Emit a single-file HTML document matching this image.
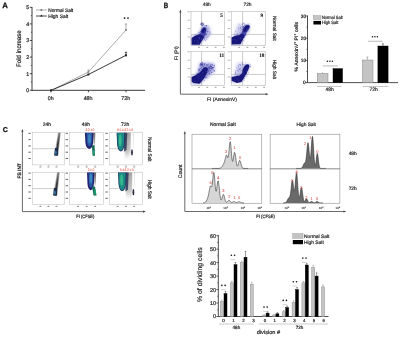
<!DOCTYPE html>
<html><head><meta charset="utf-8"><style>
html,body{margin:0;padding:0;background:#fff;}
svg{display:block;font-family:"Liberation Sans", sans-serif;}
text{opacity:0.999;text-rendering:geometricPrecision;}
</style></head><body>
<svg width="400" height="337" viewBox="0 0 400 337">
<rect width="400" height="337" fill="#fff"/>
<defs><filter id="gblur" x="0" y="0" width="100%" height="100%" filterUnits="userSpaceOnUse"><feGaussianBlur stdDeviation="0.3"/></filter></defs>
<g filter="url(#gblur)">
<text x="5.1" y="8.2" font-size="7.8" text-anchor="middle" font-weight="bold" fill="#111" stroke="#111" stroke-width="0.25" >A</text>
<line x1="32" y1="7.0" x2="32" y2="90.7" stroke="#222" stroke-width="0.9" />
<line x1="29.8" y1="90.3" x2="32" y2="90.3" stroke="#222" stroke-width="0.8" />
<text x="29.1" y="92.2" font-size="5.3" text-anchor="end" font-weight="normal" fill="#1a1a1a" stroke="#1a1a1a" stroke-width="0.18" >0</text>
<line x1="29.8" y1="73.69999999999999" x2="32" y2="73.69999999999999" stroke="#222" stroke-width="0.8" />
<text x="29.1" y="75.6" font-size="5.3" text-anchor="end" font-weight="normal" fill="#1a1a1a" stroke="#1a1a1a" stroke-width="0.18" >1</text>
<line x1="29.8" y1="57.099999999999994" x2="32" y2="57.099999999999994" stroke="#222" stroke-width="0.8" />
<text x="29.1" y="58.99999999999999" font-size="5.3" text-anchor="end" font-weight="normal" fill="#1a1a1a" stroke="#1a1a1a" stroke-width="0.18" >2</text>
<line x1="29.8" y1="40.49999999999999" x2="32" y2="40.49999999999999" stroke="#222" stroke-width="0.8" />
<text x="29.1" y="42.39999999999999" font-size="5.3" text-anchor="end" font-weight="normal" fill="#1a1a1a" stroke="#1a1a1a" stroke-width="0.18" >3</text>
<line x1="29.8" y1="23.89999999999999" x2="32" y2="23.89999999999999" stroke="#222" stroke-width="0.8" />
<text x="29.1" y="25.79999999999999" font-size="5.3" text-anchor="end" font-weight="normal" fill="#1a1a1a" stroke="#1a1a1a" stroke-width="0.18" >4</text>
<line x1="29.8" y1="7.299999999999997" x2="32" y2="7.299999999999997" stroke="#222" stroke-width="0.8" />
<text x="29.1" y="9.199999999999998" font-size="5.3" text-anchor="end" font-weight="normal" fill="#1a1a1a" stroke="#1a1a1a" stroke-width="0.18" >5</text>
<line x1="30.8" y1="82.0" x2="32" y2="82.0" stroke="#222" stroke-width="0.6" />
<line x1="30.8" y1="65.39999999999999" x2="32" y2="65.39999999999999" stroke="#222" stroke-width="0.6" />
<line x1="30.8" y1="48.8" x2="32" y2="48.8" stroke="#222" stroke-width="0.6" />
<line x1="30.8" y1="32.19999999999999" x2="32" y2="32.19999999999999" stroke="#222" stroke-width="0.6" />
<line x1="30.8" y1="15.599999999999994" x2="32" y2="15.599999999999994" stroke="#222" stroke-width="0.6" />
<line x1="32" y1="90.3" x2="145" y2="90.3" stroke="#222" stroke-width="0.9" />
<line x1="51" y1="90.3" x2="51" y2="92.3" stroke="#222" stroke-width="0.8" />
<text x="50.7" y="100.4" font-size="5.3" text-anchor="middle" font-weight="normal" fill="#1a1a1a" stroke="#1a1a1a" stroke-width="0.18" >0h</text>
<line x1="88.4" y1="90.3" x2="88.4" y2="92.3" stroke="#222" stroke-width="0.8" />
<text x="88.10000000000001" y="100.4" font-size="5.3" text-anchor="middle" font-weight="normal" fill="#1a1a1a" stroke="#1a1a1a" stroke-width="0.18" >48h</text>
<line x1="126" y1="90.3" x2="126" y2="92.3" stroke="#222" stroke-width="0.8" />
<text x="125.7" y="100.4" font-size="5.3" text-anchor="middle" font-weight="normal" fill="#1a1a1a" stroke="#1a1a1a" stroke-width="0.18" >72h</text>
<text x="21.3" y="48.6" font-size="6.5" text-anchor="middle" font-weight="normal" fill="#1a1a1a" stroke="#1a1a1a" stroke-width="0.18" transform="rotate(-90 21.3 48.6)" textLength="36.6" lengthAdjust="spacingAndGlyphs">Fold increase</text>
<polyline points="51,90.4 88.4,72 126,30" fill="none" stroke="#8a8a8a" stroke-width="0.7"/>
<line x1="126" y1="30" x2="126" y2="24" stroke="#8a8a8a" stroke-width="0.7" />
<line x1="124.8" y1="24" x2="127.2" y2="24" stroke="#8a8a8a" stroke-width="0.7" />
<line x1="88.4" y1="72" x2="88.4" y2="70" stroke="#8a8a8a" stroke-width="0.7" />
<line x1="87.4" y1="70" x2="89.4" y2="70" stroke="#8a8a8a" stroke-width="0.7" />
<polyline points="51,90.4 88.4,74.5 126,55.3" fill="none" stroke="#222" stroke-width="0.9"/>
<line x1="126" y1="55.3" x2="126" y2="52.3" stroke="#222" stroke-width="0.8" />
<line x1="124.8" y1="52.3" x2="127.2" y2="52.3" stroke="#222" stroke-width="0.8" />
<rect x="50" y="89.4" width="2" height="2" fill="#222"/>
<rect x="87.4" y="73.5" width="2" height="2" fill="#222"/>
<rect x="125" y="54.3" width="2" height="2" fill="#222"/>
<rect x="87.5" y="71.1" width="1.8" height="1.8" fill="#888"/>
<rect x="125.1" y="29.1" width="1.8" height="1.8" fill="#888"/>
<circle cx="124.6" cy="18.1" r="0.85" fill="#111"/><circle cx="128.0" cy="18.1" r="0.85" fill="#111"/>
<line x1="36" y1="10" x2="46.8" y2="10" stroke="#999" stroke-width="0.8" />
<rect x="40.6" y="9.2" width="1.6" height="1.6" fill="#666"/>
<text x="48.2" y="11.7" font-size="5.0" text-anchor="start" font-weight="normal" fill="#1a1a1a" stroke="#1a1a1a" stroke-width="0.18" textLength="25" lengthAdjust="spacingAndGlyphs">Normal Salt</text>
<line x1="36" y1="16.0" x2="46.8" y2="16.0" stroke="#333" stroke-width="0.9" />
<path d="M41.4,14.5 L42.7,16.4 L40.1,16.4 Z" fill="#222"/>
<text x="48.2" y="17.6" font-size="5.0" text-anchor="start" font-weight="normal" fill="#1a1a1a" stroke="#1a1a1a" stroke-width="0.18" textLength="20" lengthAdjust="spacingAndGlyphs">High Salt</text>
<text x="166.0" y="8.2" font-size="7.6" text-anchor="middle" font-weight="bold" fill="#111" stroke="#111" stroke-width="0.3" textLength="4.4" lengthAdjust="spacingAndGlyphs">B</text>
<text x="206.75" y="6.1" font-size="4.8" text-anchor="middle" font-weight="normal" fill="#222" stroke="#222" stroke-width="0.18" >48h</text>
<text x="247.5" y="6.1" font-size="4.8" text-anchor="middle" font-weight="normal" fill="#222" stroke="#222" stroke-width="0.18" >72h</text>
<line x1="180.4" y1="11.5" x2="180.4" y2="94.2" stroke="#444" stroke-width="0.8" />
<path d="M180.4,9.6 L179.3,12.4 L181.5,12.4 Z" fill="#444"/>
<line x1="180.4" y1="94.2" x2="266.5" y2="94.2" stroke="#444" stroke-width="0.8" />
<path d="M268.5,94.2 L265.7,93.1 L265.7,95.3 Z" fill="#444"/>
<text x="178.4" y="53.2" font-size="5.0" text-anchor="middle" font-weight="normal" fill="#222" stroke="#222" stroke-width="0.18" transform="rotate(-90 178.4 53.2)" >FI (PI)</text>
<text x="222.0" y="100.7" font-size="4.9" text-anchor="middle" font-weight="normal" fill="#222" stroke="#222" stroke-width="0.18" >FI (AnnexinV)</text>
<text x="272.9" y="28.4" font-size="4.9" text-anchor="middle" font-weight="normal" fill="#222" stroke="#222" stroke-width="0.18" transform="rotate(90 272.9 28.4)" textLength="25" lengthAdjust="spacingAndGlyphs">Normal Salt</text>
<text x="272.9" y="69.4" font-size="4.9" text-anchor="middle" font-weight="normal" fill="#222" stroke="#222" stroke-width="0.18" transform="rotate(90 272.9 69.4)" textLength="19.5" lengthAdjust="spacingAndGlyphs">High Salt</text>
<rect x="191" y="11.7" width="33.5" height="33.7" fill="none" stroke="#aaa" stroke-width="0.5" />
<line x1="201.6" y1="11.7" x2="201.6" y2="45.400000000000006" stroke="#999" stroke-width="0.5" />
<line x1="191" y1="34.4" x2="224.5" y2="34.4" stroke="#999" stroke-width="0.5" />
<line x1="190.1" y1="11.799999999999999" x2="191" y2="11.799999999999999" stroke="#aaa" stroke-width="0.5" />
<rect x="187.6" y="11.35" width="2.1" height="0.9" fill="#aaa" stroke="none" stroke-width="0.6" />
<line x1="190.1" y1="20.2" x2="191" y2="20.2" stroke="#aaa" stroke-width="0.5" />
<rect x="187.6" y="19.75" width="2.1" height="0.9" fill="#aaa" stroke="none" stroke-width="0.6" />
<line x1="190.1" y1="28.6" x2="191" y2="28.6" stroke="#aaa" stroke-width="0.5" />
<rect x="187.6" y="28.150000000000002" width="2.1" height="0.9" fill="#aaa" stroke="none" stroke-width="0.6" />
<line x1="190.1" y1="37.0" x2="191" y2="37.0" stroke="#aaa" stroke-width="0.5" />
<rect x="187.6" y="36.55" width="2.1" height="0.9" fill="#aaa" stroke="none" stroke-width="0.6" />
<line x1="199.0" y1="45.400000000000006" x2="199.0" y2="46.400000000000006" stroke="#aaa" stroke-width="0.5" />
<rect x="198.1" y="47.2" width="1.8" height="0.8" fill="#999" stroke="none" stroke-width="0.6" />
<line x1="207.29999999999998" y1="45.400000000000006" x2="207.29999999999998" y2="46.400000000000006" stroke="#aaa" stroke-width="0.5" />
<rect x="206.39999999999998" y="47.2" width="1.8" height="0.8" fill="#999" stroke="none" stroke-width="0.6" />
<line x1="215.6" y1="45.400000000000006" x2="215.6" y2="46.400000000000006" stroke="#aaa" stroke-width="0.5" />
<rect x="214.7" y="47.2" width="1.8" height="0.8" fill="#999" stroke="none" stroke-width="0.6" />
<line x1="223.89999999999998" y1="45.400000000000006" x2="223.89999999999998" y2="46.400000000000006" stroke="#aaa" stroke-width="0.5" />
<rect x="222.99999999999997" y="47.2" width="1.8" height="0.8" fill="#999" stroke="none" stroke-width="0.6" />
<text x="221.7" y="16.799999999999997" font-size="5.3" text-anchor="middle" font-weight="bold" fill="#111" stroke="#111" stroke-width="0.1" font-family="Liberation Serif">5</text>
<rect x="231.2" y="11.7" width="34.4" height="33.7" fill="none" stroke="#aaa" stroke-width="0.5" />
<line x1="242.6" y1="11.7" x2="242.6" y2="45.400000000000006" stroke="#999" stroke-width="0.5" />
<line x1="231.2" y1="34.4" x2="265.59999999999997" y2="34.4" stroke="#999" stroke-width="0.5" />
<line x1="230.29999999999998" y1="11.799999999999999" x2="231.2" y2="11.799999999999999" stroke="#aaa" stroke-width="0.5" />
<rect x="227.79999999999998" y="11.35" width="2.1" height="0.9" fill="#aaa" stroke="none" stroke-width="0.6" />
<line x1="230.29999999999998" y1="20.2" x2="231.2" y2="20.2" stroke="#aaa" stroke-width="0.5" />
<rect x="227.79999999999998" y="19.75" width="2.1" height="0.9" fill="#aaa" stroke="none" stroke-width="0.6" />
<line x1="230.29999999999998" y1="28.6" x2="231.2" y2="28.6" stroke="#aaa" stroke-width="0.5" />
<rect x="227.79999999999998" y="28.150000000000002" width="2.1" height="0.9" fill="#aaa" stroke="none" stroke-width="0.6" />
<line x1="230.29999999999998" y1="37.0" x2="231.2" y2="37.0" stroke="#aaa" stroke-width="0.5" />
<rect x="227.79999999999998" y="36.55" width="2.1" height="0.9" fill="#aaa" stroke="none" stroke-width="0.6" />
<line x1="239.2" y1="45.400000000000006" x2="239.2" y2="46.400000000000006" stroke="#aaa" stroke-width="0.5" />
<rect x="238.29999999999998" y="47.2" width="1.8" height="0.8" fill="#999" stroke="none" stroke-width="0.6" />
<line x1="247.49999999999997" y1="45.400000000000006" x2="247.49999999999997" y2="46.400000000000006" stroke="#aaa" stroke-width="0.5" />
<rect x="246.59999999999997" y="47.2" width="1.8" height="0.8" fill="#999" stroke="none" stroke-width="0.6" />
<line x1="255.79999999999995" y1="45.400000000000006" x2="255.79999999999995" y2="46.400000000000006" stroke="#aaa" stroke-width="0.5" />
<rect x="254.89999999999995" y="47.2" width="1.8" height="0.8" fill="#999" stroke="none" stroke-width="0.6" />
<line x1="264.09999999999997" y1="45.400000000000006" x2="264.09999999999997" y2="46.400000000000006" stroke="#aaa" stroke-width="0.5" />
<rect x="263.2" y="47.2" width="1.8" height="0.8" fill="#999" stroke="none" stroke-width="0.6" />
<text x="261.79999999999995" y="16.799999999999997" font-size="5.3" text-anchor="middle" font-weight="bold" fill="#111" stroke="#111" stroke-width="0.1" font-family="Liberation Serif">9</text>
<rect x="191" y="51.7" width="33.5" height="33.7" fill="none" stroke="#aaa" stroke-width="0.5" />
<line x1="201.6" y1="51.7" x2="201.6" y2="85.4" stroke="#999" stroke-width="0.5" />
<line x1="191" y1="74.4" x2="224.5" y2="74.4" stroke="#999" stroke-width="0.5" />
<line x1="190.1" y1="51.800000000000004" x2="191" y2="51.800000000000004" stroke="#aaa" stroke-width="0.5" />
<rect x="187.6" y="51.35" width="2.1" height="0.9" fill="#aaa" stroke="none" stroke-width="0.6" />
<line x1="190.1" y1="60.2" x2="191" y2="60.2" stroke="#aaa" stroke-width="0.5" />
<rect x="187.6" y="59.75" width="2.1" height="0.9" fill="#aaa" stroke="none" stroke-width="0.6" />
<line x1="190.1" y1="68.60000000000001" x2="191" y2="68.60000000000001" stroke="#aaa" stroke-width="0.5" />
<rect x="187.6" y="68.15" width="2.1" height="0.9" fill="#aaa" stroke="none" stroke-width="0.6" />
<line x1="190.1" y1="77.0" x2="191" y2="77.0" stroke="#aaa" stroke-width="0.5" />
<rect x="187.6" y="76.55" width="2.1" height="0.9" fill="#aaa" stroke="none" stroke-width="0.6" />
<line x1="199.0" y1="85.4" x2="199.0" y2="86.4" stroke="#aaa" stroke-width="0.5" />
<rect x="198.1" y="87.2" width="1.8" height="0.8" fill="#999" stroke="none" stroke-width="0.6" />
<line x1="207.29999999999998" y1="85.4" x2="207.29999999999998" y2="86.4" stroke="#aaa" stroke-width="0.5" />
<rect x="206.39999999999998" y="87.2" width="1.8" height="0.8" fill="#999" stroke="none" stroke-width="0.6" />
<line x1="215.6" y1="85.4" x2="215.6" y2="86.4" stroke="#aaa" stroke-width="0.5" />
<rect x="214.7" y="87.2" width="1.8" height="0.8" fill="#999" stroke="none" stroke-width="0.6" />
<line x1="223.89999999999998" y1="85.4" x2="223.89999999999998" y2="86.4" stroke="#aaa" stroke-width="0.5" />
<rect x="222.99999999999997" y="87.2" width="1.8" height="0.8" fill="#999" stroke="none" stroke-width="0.6" />
<text x="221.7" y="56.800000000000004" font-size="5.3" text-anchor="middle" font-weight="bold" fill="#111" stroke="#111" stroke-width="0.1" font-family="Liberation Serif">11</text>
<rect x="231.2" y="51.7" width="34.4" height="33.7" fill="none" stroke="#aaa" stroke-width="0.5" />
<line x1="242.6" y1="51.7" x2="242.6" y2="85.4" stroke="#999" stroke-width="0.5" />
<line x1="231.2" y1="74.4" x2="265.59999999999997" y2="74.4" stroke="#999" stroke-width="0.5" />
<line x1="230.29999999999998" y1="51.800000000000004" x2="231.2" y2="51.800000000000004" stroke="#aaa" stroke-width="0.5" />
<rect x="227.79999999999998" y="51.35" width="2.1" height="0.9" fill="#aaa" stroke="none" stroke-width="0.6" />
<line x1="230.29999999999998" y1="60.2" x2="231.2" y2="60.2" stroke="#aaa" stroke-width="0.5" />
<rect x="227.79999999999998" y="59.75" width="2.1" height="0.9" fill="#aaa" stroke="none" stroke-width="0.6" />
<line x1="230.29999999999998" y1="68.60000000000001" x2="231.2" y2="68.60000000000001" stroke="#aaa" stroke-width="0.5" />
<rect x="227.79999999999998" y="68.15" width="2.1" height="0.9" fill="#aaa" stroke="none" stroke-width="0.6" />
<line x1="230.29999999999998" y1="77.0" x2="231.2" y2="77.0" stroke="#aaa" stroke-width="0.5" />
<rect x="227.79999999999998" y="76.55" width="2.1" height="0.9" fill="#aaa" stroke="none" stroke-width="0.6" />
<line x1="239.2" y1="85.4" x2="239.2" y2="86.4" stroke="#aaa" stroke-width="0.5" />
<rect x="238.29999999999998" y="87.2" width="1.8" height="0.8" fill="#999" stroke="none" stroke-width="0.6" />
<line x1="247.49999999999997" y1="85.4" x2="247.49999999999997" y2="86.4" stroke="#aaa" stroke-width="0.5" />
<rect x="246.59999999999997" y="87.2" width="1.8" height="0.8" fill="#999" stroke="none" stroke-width="0.6" />
<line x1="255.79999999999995" y1="85.4" x2="255.79999999999995" y2="86.4" stroke="#aaa" stroke-width="0.5" />
<rect x="254.89999999999995" y="87.2" width="1.8" height="0.8" fill="#999" stroke="none" stroke-width="0.6" />
<line x1="264.09999999999997" y1="85.4" x2="264.09999999999997" y2="86.4" stroke="#aaa" stroke-width="0.5" />
<rect x="263.2" y="87.2" width="1.8" height="0.8" fill="#999" stroke="none" stroke-width="0.6" />
<text x="261.79999999999995" y="56.800000000000004" font-size="5.3" text-anchor="middle" font-weight="bold" fill="#111" stroke="#111" stroke-width="0.1" font-family="Liberation Serif">18</text>
<defs><filter id="bl1" x="-50%" y="-50%" width="200%" height="200%"><feGaussianBlur stdDeviation="0.5"/></filter><filter id="bl2" x="-50%" y="-50%" width="200%" height="200%"><feGaussianBlur stdDeviation="1.5"/></filter><filter id="bl6" x="-50%" y="-50%" width="200%" height="200%"><feGaussianBlur stdDeviation="0.9"/></filter><filter id="bl3" x="-50%" y="-50%" width="200%" height="200%"><feGaussianBlur stdDeviation="0.35"/></filter><filter id="bl7" x="-50%" y="-50%" width="200%" height="200%"><feGaussianBlur stdDeviation="0.25"/></filter></defs>
<path d="M198,34 L203,25 L210,27 L211,34 L206,40 L201,40 Z" fill="#9a9ade" opacity="0.6" filter="url(#bl2)"/>
<g filter="url(#bl7)">
<g fill="#3535a6"><circle cx="202.8" cy="34.5" r="0.58" fill-opacity="0.53"/><circle cx="203.6" cy="35.0" r="0.36" fill-opacity="0.56"/><circle cx="205.4" cy="38.5" r="0.33" fill-opacity="0.45"/><circle cx="206.4" cy="25.7" r="0.59" fill-opacity="0.78"/><circle cx="205.8" cy="35.5" r="0.35" fill-opacity="0.31"/><circle cx="203.9" cy="26.0" r="0.36" fill-opacity="0.42"/><circle cx="202.6" cy="39.3" r="0.46" fill-opacity="0.62"/><circle cx="203.5" cy="36.3" r="0.44" fill-opacity="0.44"/><circle cx="208.6" cy="37.0" r="0.39" fill-opacity="0.41"/><circle cx="207.5" cy="31.8" r="0.55" fill-opacity="0.49"/><circle cx="209.7" cy="33.0" r="0.59" fill-opacity="0.50"/><circle cx="197.1" cy="35.7" r="0.53" fill-opacity="0.43"/><circle cx="208.0" cy="28.0" r="0.47" fill-opacity="0.52"/><circle cx="198.9" cy="37.4" r="0.34" fill-opacity="0.62"/><circle cx="200.6" cy="40.0" r="0.36" fill-opacity="0.50"/><circle cx="208.8" cy="35.9" r="0.33" fill-opacity="0.79"/><circle cx="207.6" cy="30.6" r="0.39" fill-opacity="0.34"/><circle cx="197.4" cy="34.9" r="0.37" fill-opacity="0.60"/><circle cx="201.6" cy="32.7" r="0.59" fill-opacity="0.54"/><circle cx="204.6" cy="39.7" r="0.35" fill-opacity="0.38"/><circle cx="209.2" cy="35.3" r="0.43" fill-opacity="0.35"/><circle cx="199.6" cy="37.0" r="0.38" fill-opacity="0.71"/><circle cx="204.9" cy="30.0" r="0.35" fill-opacity="0.66"/><circle cx="204.4" cy="39.5" r="0.48" fill-opacity="0.44"/><circle cx="209.8" cy="28.5" r="0.30" fill-opacity="0.43"/><circle cx="202.7" cy="26.0" r="0.35" fill-opacity="0.48"/><circle cx="204.6" cy="27.2" r="0.41" fill-opacity="0.75"/><circle cx="206.4" cy="34.9" r="0.34" fill-opacity="0.32"/><circle cx="196.3" cy="35.8" r="0.44" fill-opacity="0.67"/><circle cx="207.1" cy="37.0" r="0.54" fill-opacity="0.76"/><circle cx="201.3" cy="36.6" r="0.57" fill-opacity="0.74"/><circle cx="202.3" cy="38.4" r="0.56" fill-opacity="0.59"/><circle cx="205.4" cy="31.5" r="0.47" fill-opacity="0.60"/><circle cx="197.2" cy="35.9" r="0.60" fill-opacity="0.74"/><circle cx="206.9" cy="31.6" r="0.52" fill-opacity="0.59"/><circle cx="202.6" cy="39.3" r="0.33" fill-opacity="0.68"/><circle cx="203.2" cy="28.9" r="0.51" fill-opacity="0.55"/><circle cx="205.2" cy="40.6" r="0.38" fill-opacity="0.31"/><circle cx="200.5" cy="36.5" r="0.36" fill-opacity="0.38"/><circle cx="202.6" cy="40.2" r="0.40" fill-opacity="0.63"/><circle cx="199.0" cy="32.3" r="0.54" fill-opacity="0.76"/><circle cx="209.2" cy="31.5" r="0.47" fill-opacity="0.46"/><circle cx="202.8" cy="29.7" r="0.36" fill-opacity="0.51"/><circle cx="205.4" cy="33.4" r="0.39" fill-opacity="0.72"/><circle cx="206.6" cy="34.7" r="0.39" fill-opacity="0.70"/><circle cx="202.8" cy="25.4" r="0.55" fill-opacity="0.42"/><circle cx="205.4" cy="32.6" r="0.49" fill-opacity="0.63"/><circle cx="206.3" cy="28.4" r="0.44" fill-opacity="0.39"/><circle cx="206.7" cy="28.0" r="0.38" fill-opacity="0.47"/><circle cx="206.5" cy="33.8" r="0.48" fill-opacity="0.68"/><circle cx="201.9" cy="38.5" r="0.57" fill-opacity="0.34"/><circle cx="205.4" cy="40.5" r="0.41" fill-opacity="0.58"/><circle cx="210.2" cy="32.9" r="0.50" fill-opacity="0.40"/><circle cx="206.8" cy="38.9" r="0.49" fill-opacity="0.66"/><circle cx="204.1" cy="38.4" r="0.40" fill-opacity="0.75"/><circle cx="208.8" cy="30.9" r="0.32" fill-opacity="0.52"/><circle cx="204.3" cy="38.1" r="0.45" fill-opacity="0.31"/><circle cx="208.1" cy="26.1" r="0.54" fill-opacity="0.39"/><circle cx="201.0" cy="38.4" r="0.34" fill-opacity="0.37"/><circle cx="203.7" cy="37.3" r="0.55" fill-opacity="0.64"/><circle cx="199.3" cy="34.0" r="0.39" fill-opacity="0.66"/><circle cx="205.6" cy="33.9" r="0.55" fill-opacity="0.58"/><circle cx="200.7" cy="31.5" r="0.55" fill-opacity="0.75"/><circle cx="204.6" cy="28.4" r="0.46" fill-opacity="0.55"/><circle cx="205.1" cy="25.5" r="0.59" fill-opacity="0.56"/><circle cx="202.0" cy="38.6" r="0.47" fill-opacity="0.55"/><circle cx="206.4" cy="26.1" r="0.46" fill-opacity="0.51"/><circle cx="200.0" cy="33.0" r="0.34" fill-opacity="0.52"/><circle cx="203.1" cy="30.4" r="0.36" fill-opacity="0.61"/><circle cx="207.7" cy="25.4" r="0.36" fill-opacity="0.41"/></g>
<g fill="#5a5ac0"><circle cx="197.0" cy="40.5" r="0.50" fill-opacity="0.24"/><circle cx="191.6" cy="36.9" r="0.38" fill-opacity="0.44"/><circle cx="199.4" cy="39.8" r="0.47" fill-opacity="0.40"/><circle cx="193.2" cy="37.7" r="0.35" fill-opacity="0.47"/><circle cx="192.2" cy="42.6" r="0.32" fill-opacity="0.41"/><circle cx="195.4" cy="37.3" r="0.55" fill-opacity="0.21"/><circle cx="192.2" cy="43.9" r="0.45" fill-opacity="0.23"/><circle cx="192.8" cy="37.5" r="0.34" fill-opacity="0.29"/><circle cx="198.6" cy="34.1" r="0.51" fill-opacity="0.22"/><circle cx="193.5" cy="42.6" r="0.42" fill-opacity="0.33"/><circle cx="198.4" cy="38.2" r="0.42" fill-opacity="0.21"/><circle cx="199.9" cy="44.6" r="0.59" fill-opacity="0.40"/><circle cx="195.6" cy="36.7" r="0.51" fill-opacity="0.40"/><circle cx="192.8" cy="35.1" r="0.41" fill-opacity="0.35"/><circle cx="200.8" cy="38.5" r="0.31" fill-opacity="0.45"/><circle cx="196.4" cy="38.7" r="0.37" fill-opacity="0.33"/><circle cx="196.0" cy="42.0" r="0.33" fill-opacity="0.36"/><circle cx="193.5" cy="41.0" r="0.31" fill-opacity="0.28"/><circle cx="195.5" cy="40.3" r="0.32" fill-opacity="0.34"/><circle cx="193.9" cy="35.7" r="0.44" fill-opacity="0.49"/><circle cx="197.0" cy="44.4" r="0.35" fill-opacity="0.48"/><circle cx="195.7" cy="34.5" r="0.52" fill-opacity="0.47"/><circle cx="191.6" cy="35.5" r="0.53" fill-opacity="0.30"/><circle cx="192.0" cy="40.0" r="0.60" fill-opacity="0.50"/><circle cx="195.2" cy="42.2" r="0.55" fill-opacity="0.39"/></g>
</g>
<path d="M191.4,37 L196,34.5 L200,32.5 L202,28 L205,26 L208,29 L206.5,36 L203,41 L200.5,45 L191.4,45 Z" fill="#3c3ca8" opacity="0.3" filter="url(#bl6)"/>
<path d="M199.5,35 L201.5,30 L205.5,29.5 L205.5,35 L203,38.5 Z" fill="#3030a0" opacity="0.8" filter="url(#bl1)"/>
<path d="M191.6,38 L195,35.8 L199.6,34.2 L202.2,35.2 L204,37.2 L202,40.5 L199.6,44.8 L191.6,44.8 Z" fill="#17177a" filter="url(#bl1)"/>
<ellipse cx="203.8" cy="30.2" rx="2.2" ry="3.0" transform="rotate(25 203.8 30.2)" fill="#17177a" filter="url(#bl1)"/>
<ellipse cx="202.1" cy="24.1" rx="1.3" ry="1.1" fill="none" stroke="#17177a" stroke-width="0.8" filter="url(#bl3)"/>
<path d="M234,34 L238,24 L244,24 L244,33 L238,37 Z" fill="#9a9ade" opacity="0.5" filter="url(#bl2)"/>
<g filter="url(#bl7)">
<g fill="#3535a6"><circle cx="236.8" cy="35.8" r="0.49" fill-opacity="0.54"/><circle cx="237.7" cy="37.9" r="0.54" fill-opacity="0.56"/><circle cx="242.6" cy="26.7" r="0.30" fill-opacity="0.49"/><circle cx="244.0" cy="23.4" r="0.54" fill-opacity="0.42"/><circle cx="242.5" cy="24.3" r="0.59" fill-opacity="0.48"/><circle cx="236.6" cy="38.4" r="0.34" fill-opacity="0.76"/><circle cx="241.7" cy="33.0" r="0.40" fill-opacity="0.54"/><circle cx="248.7" cy="26.7" r="0.53" fill-opacity="0.40"/><circle cx="243.9" cy="36.6" r="0.34" fill-opacity="0.54"/><circle cx="248.1" cy="26.0" r="0.58" fill-opacity="0.74"/><circle cx="241.0" cy="29.3" r="0.44" fill-opacity="0.49"/><circle cx="242.4" cy="31.8" r="0.47" fill-opacity="0.67"/><circle cx="237.8" cy="34.2" r="0.47" fill-opacity="0.61"/><circle cx="239.9" cy="40.5" r="0.40" fill-opacity="0.60"/><circle cx="239.2" cy="24.1" r="0.32" fill-opacity="0.71"/><circle cx="247.2" cy="29.5" r="0.51" fill-opacity="0.64"/><circle cx="249.0" cy="31.8" r="0.41" fill-opacity="0.42"/><circle cx="248.9" cy="25.2" r="0.32" fill-opacity="0.70"/><circle cx="247.2" cy="31.7" r="0.55" fill-opacity="0.33"/><circle cx="238.4" cy="27.8" r="0.43" fill-opacity="0.39"/><circle cx="246.7" cy="31.6" r="0.38" fill-opacity="0.78"/><circle cx="242.9" cy="36.6" r="0.31" fill-opacity="0.41"/><circle cx="241.2" cy="33.6" r="0.55" fill-opacity="0.45"/><circle cx="243.1" cy="27.5" r="0.53" fill-opacity="0.31"/><circle cx="243.9" cy="27.1" r="0.42" fill-opacity="0.78"/><circle cx="249.4" cy="24.7" r="0.33" fill-opacity="0.35"/><circle cx="245.1" cy="24.5" r="0.46" fill-opacity="0.46"/><circle cx="242.4" cy="26.4" r="0.35" fill-opacity="0.39"/><circle cx="240.4" cy="36.2" r="0.47" fill-opacity="0.32"/><circle cx="235.1" cy="37.3" r="0.35" fill-opacity="0.66"/><circle cx="238.3" cy="35.9" r="0.39" fill-opacity="0.32"/><circle cx="240.6" cy="28.2" r="0.57" fill-opacity="0.45"/><circle cx="242.6" cy="33.0" r="0.58" fill-opacity="0.35"/><circle cx="244.2" cy="32.2" r="0.52" fill-opacity="0.78"/><circle cx="239.3" cy="36.0" r="0.46" fill-opacity="0.58"/><circle cx="246.9" cy="31.0" r="0.49" fill-opacity="0.31"/><circle cx="245.0" cy="30.9" r="0.46" fill-opacity="0.49"/><circle cx="240.8" cy="26.5" r="0.31" fill-opacity="0.52"/><circle cx="238.2" cy="36.1" r="0.55" fill-opacity="0.66"/><circle cx="241.8" cy="26.7" r="0.42" fill-opacity="0.54"/><circle cx="235.5" cy="31.6" r="0.45" fill-opacity="0.66"/><circle cx="244.7" cy="37.2" r="0.50" fill-opacity="0.73"/><circle cx="245.9" cy="35.7" r="0.37" fill-opacity="0.76"/><circle cx="240.6" cy="34.3" r="0.55" fill-opacity="0.78"/><circle cx="239.3" cy="28.2" r="0.42" fill-opacity="0.37"/><circle cx="243.4" cy="23.6" r="0.39" fill-opacity="0.77"/><circle cx="246.6" cy="31.2" r="0.33" fill-opacity="0.78"/><circle cx="246.0" cy="26.1" r="0.40" fill-opacity="0.62"/><circle cx="245.6" cy="27.2" r="0.59" fill-opacity="0.46"/><circle cx="238.3" cy="38.9" r="0.35" fill-opacity="0.64"/><circle cx="237.4" cy="34.0" r="0.38" fill-opacity="0.49"/><circle cx="241.4" cy="34.3" r="0.38" fill-opacity="0.39"/><circle cx="240.5" cy="27.4" r="0.36" fill-opacity="0.78"/><circle cx="234.7" cy="34.2" r="0.51" fill-opacity="0.42"/><circle cx="241.7" cy="39.9" r="0.41" fill-opacity="0.37"/><circle cx="243.0" cy="23.0" r="0.36" fill-opacity="0.50"/><circle cx="243.4" cy="26.5" r="0.54" fill-opacity="0.72"/><circle cx="244.5" cy="31.4" r="0.54" fill-opacity="0.47"/><circle cx="238.6" cy="29.1" r="0.39" fill-opacity="0.61"/><circle cx="249.1" cy="23.4" r="0.32" fill-opacity="0.56"/><circle cx="245.5" cy="25.8" r="0.38" fill-opacity="0.33"/><circle cx="245.6" cy="35.1" r="0.35" fill-opacity="0.35"/><circle cx="240.9" cy="35.8" r="0.52" fill-opacity="0.56"/><circle cx="240.0" cy="32.7" r="0.49" fill-opacity="0.39"/><circle cx="246.1" cy="31.9" r="0.35" fill-opacity="0.73"/><circle cx="245.6" cy="26.3" r="0.53" fill-opacity="0.75"/><circle cx="243.1" cy="40.2" r="0.59" fill-opacity="0.50"/><circle cx="240.0" cy="34.3" r="0.48" fill-opacity="0.68"/><circle cx="245.0" cy="25.2" r="0.58" fill-opacity="0.57"/><circle cx="249.0" cy="26.1" r="0.60" fill-opacity="0.58"/></g>
</g>
<path d="M231.4,37 L236,35 L240,34 L242,28 L246,24 L250,25 L249.5,31 L246,35 L244,40 L241,45 L231.4,45 Z" fill="#3c3ca8" opacity="0.3" filter="url(#bl6)"/>
<path d="M240.5,35 L243,30 L247,30 L246,35 L243,38.5 Z" fill="#3030a0" opacity="0.8" filter="url(#bl1)"/>
<path d="M231.6,37.6 L235.1,35.8 L239.6,34.9 L242.5,33.6 L244.6,35.0 L243.6,38 L240.5,44.2 L231.6,44.5 Z" fill="#17177a" filter="url(#bl1)"/>
<ellipse cx="246.2" cy="28.5" rx="2.5" ry="4.3" transform="rotate(42 246.2 28.5)" fill="#17177a" filter="url(#bl1)"/>
<path d="M197,72 L200,62 L214,63 L215,71 L207,79 L200,78 Z" fill="#9a9ade" opacity="0.7" filter="url(#bl2)"/>
<g filter="url(#bl7)">
<g fill="#3535a6"><circle cx="203.5" cy="75.0" r="0.34" fill-opacity="0.36"/><circle cx="200.4" cy="76.4" r="0.34" fill-opacity="0.67"/><circle cx="208.6" cy="64.6" r="0.46" fill-opacity="0.52"/><circle cx="213.9" cy="69.7" r="0.36" fill-opacity="0.47"/><circle cx="202.9" cy="80.1" r="0.36" fill-opacity="0.41"/><circle cx="207.1" cy="72.4" r="0.59" fill-opacity="0.72"/><circle cx="202.8" cy="65.9" r="0.55" fill-opacity="0.79"/><circle cx="200.1" cy="77.1" r="0.52" fill-opacity="0.40"/><circle cx="208.2" cy="66.2" r="0.31" fill-opacity="0.47"/><circle cx="202.4" cy="69.5" r="0.49" fill-opacity="0.72"/><circle cx="201.8" cy="65.3" r="0.49" fill-opacity="0.57"/><circle cx="208.8" cy="63.8" r="0.36" fill-opacity="0.76"/><circle cx="207.4" cy="75.2" r="0.33" fill-opacity="0.50"/><circle cx="204.6" cy="77.2" r="0.43" fill-opacity="0.69"/><circle cx="206.7" cy="64.2" r="0.33" fill-opacity="0.79"/><circle cx="202.4" cy="75.6" r="0.56" fill-opacity="0.54"/><circle cx="205.5" cy="77.0" r="0.38" fill-opacity="0.49"/><circle cx="207.6" cy="74.1" r="0.31" fill-opacity="0.36"/><circle cx="198.6" cy="75.8" r="0.51" fill-opacity="0.79"/><circle cx="210.6" cy="66.8" r="0.53" fill-opacity="0.79"/><circle cx="203.1" cy="67.4" r="0.35" fill-opacity="0.32"/><circle cx="198.4" cy="78.4" r="0.31" fill-opacity="0.61"/><circle cx="199.9" cy="65.7" r="0.55" fill-opacity="0.45"/><circle cx="199.5" cy="70.6" r="0.51" fill-opacity="0.56"/><circle cx="212.3" cy="69.6" r="0.46" fill-opacity="0.66"/><circle cx="204.8" cy="75.6" r="0.44" fill-opacity="0.37"/><circle cx="198.3" cy="76.9" r="0.52" fill-opacity="0.77"/><circle cx="209.1" cy="73.0" r="0.35" fill-opacity="0.73"/><circle cx="198.3" cy="70.1" r="0.34" fill-opacity="0.49"/><circle cx="201.8" cy="70.1" r="0.51" fill-opacity="0.57"/><circle cx="200.6" cy="76.8" r="0.52" fill-opacity="0.71"/><circle cx="196.6" cy="73.7" r="0.57" fill-opacity="0.43"/><circle cx="199.8" cy="77.5" r="0.41" fill-opacity="0.50"/><circle cx="211.5" cy="69.3" r="0.36" fill-opacity="0.41"/><circle cx="202.6" cy="75.3" r="0.41" fill-opacity="0.69"/><circle cx="207.9" cy="71.1" r="0.45" fill-opacity="0.77"/><circle cx="201.3" cy="65.4" r="0.31" fill-opacity="0.54"/><circle cx="201.6" cy="71.0" r="0.30" fill-opacity="0.30"/><circle cx="203.2" cy="76.4" r="0.39" fill-opacity="0.76"/><circle cx="207.0" cy="69.7" r="0.53" fill-opacity="0.42"/><circle cx="206.3" cy="68.1" r="0.33" fill-opacity="0.59"/><circle cx="199.6" cy="69.1" r="0.46" fill-opacity="0.77"/><circle cx="208.8" cy="71.9" r="0.56" fill-opacity="0.45"/><circle cx="203.4" cy="74.9" r="0.47" fill-opacity="0.41"/><circle cx="203.8" cy="77.6" r="0.37" fill-opacity="0.65"/><circle cx="209.0" cy="68.2" r="0.59" fill-opacity="0.70"/><circle cx="203.8" cy="72.2" r="0.43" fill-opacity="0.37"/><circle cx="204.4" cy="71.1" r="0.44" fill-opacity="0.64"/><circle cx="209.8" cy="68.4" r="0.35" fill-opacity="0.34"/><circle cx="202.1" cy="69.4" r="0.43" fill-opacity="0.77"/><circle cx="204.6" cy="69.6" r="0.54" fill-opacity="0.67"/><circle cx="213.3" cy="70.1" r="0.47" fill-opacity="0.69"/><circle cx="204.6" cy="64.6" r="0.48" fill-opacity="0.74"/><circle cx="203.2" cy="66.3" r="0.40" fill-opacity="0.78"/><circle cx="204.0" cy="68.0" r="0.38" fill-opacity="0.52"/><circle cx="208.7" cy="68.5" r="0.36" fill-opacity="0.41"/><circle cx="200.9" cy="79.2" r="0.35" fill-opacity="0.68"/><circle cx="198.1" cy="76.9" r="0.38" fill-opacity="0.69"/><circle cx="204.2" cy="63.5" r="0.33" fill-opacity="0.70"/><circle cx="206.3" cy="71.2" r="0.41" fill-opacity="0.65"/><circle cx="205.2" cy="63.2" r="0.48" fill-opacity="0.46"/><circle cx="212.1" cy="72.4" r="0.53" fill-opacity="0.36"/><circle cx="209.4" cy="73.6" r="0.56" fill-opacity="0.74"/><circle cx="206.5" cy="73.2" r="0.53" fill-opacity="0.43"/><circle cx="206.4" cy="77.0" r="0.48" fill-opacity="0.57"/><circle cx="207.7" cy="64.8" r="0.59" fill-opacity="0.54"/><circle cx="206.1" cy="77.5" r="0.56" fill-opacity="0.37"/><circle cx="204.6" cy="65.4" r="0.44" fill-opacity="0.37"/><circle cx="212.7" cy="68.8" r="0.42" fill-opacity="0.75"/><circle cx="211.6" cy="68.4" r="0.45" fill-opacity="0.63"/><circle cx="212.3" cy="65.1" r="0.51" fill-opacity="0.67"/><circle cx="207.2" cy="68.6" r="0.56" fill-opacity="0.69"/><circle cx="208.1" cy="67.5" r="0.35" fill-opacity="0.35"/><circle cx="202.6" cy="65.4" r="0.32" fill-opacity="0.51"/><circle cx="201.7" cy="77.6" r="0.32" fill-opacity="0.50"/><circle cx="205.8" cy="65.1" r="0.31" fill-opacity="0.34"/><circle cx="213.1" cy="68.2" r="0.37" fill-opacity="0.73"/><circle cx="202.8" cy="69.8" r="0.52" fill-opacity="0.74"/><circle cx="199.1" cy="67.0" r="0.30" fill-opacity="0.58"/><circle cx="198.8" cy="75.1" r="0.49" fill-opacity="0.35"/><circle cx="205.3" cy="68.5" r="0.35" fill-opacity="0.53"/><circle cx="202.9" cy="66.4" r="0.49" fill-opacity="0.63"/><circle cx="204.9" cy="75.6" r="0.41" fill-opacity="0.52"/><circle cx="202.4" cy="77.3" r="0.59" fill-opacity="0.54"/><circle cx="197.5" cy="73.3" r="0.48" fill-opacity="0.64"/><circle cx="210.8" cy="70.8" r="0.46" fill-opacity="0.68"/><circle cx="213.9" cy="67.4" r="0.59" fill-opacity="0.44"/><circle cx="204.6" cy="65.0" r="0.48" fill-opacity="0.50"/><circle cx="198.4" cy="74.5" r="0.48" fill-opacity="0.44"/><circle cx="209.2" cy="73.9" r="0.33" fill-opacity="0.75"/><circle cx="203.6" cy="70.8" r="0.47" fill-opacity="0.52"/><circle cx="214.1" cy="70.9" r="0.50" fill-opacity="0.69"/><circle cx="213.7" cy="65.2" r="0.40" fill-opacity="0.77"/><circle cx="207.5" cy="69.1" r="0.56" fill-opacity="0.36"/><circle cx="208.7" cy="71.2" r="0.39" fill-opacity="0.52"/><circle cx="200.8" cy="75.5" r="0.53" fill-opacity="0.49"/><circle cx="206.7" cy="64.9" r="0.34" fill-opacity="0.58"/><circle cx="198.5" cy="69.2" r="0.55" fill-opacity="0.44"/><circle cx="198.3" cy="76.6" r="0.55" fill-opacity="0.80"/><circle cx="204.2" cy="80.8" r="0.46" fill-opacity="0.74"/><circle cx="200.3" cy="70.9" r="0.51" fill-opacity="0.41"/><circle cx="205.9" cy="77.7" r="0.54" fill-opacity="0.65"/><circle cx="207.5" cy="66.7" r="0.37" fill-opacity="0.33"/><circle cx="209.1" cy="69.5" r="0.48" fill-opacity="0.34"/><circle cx="200.8" cy="68.5" r="0.54" fill-opacity="0.63"/><circle cx="207.5" cy="69.5" r="0.41" fill-opacity="0.49"/><circle cx="200.7" cy="71.5" r="0.52" fill-opacity="0.40"/><circle cx="202.8" cy="73.1" r="0.36" fill-opacity="0.75"/><circle cx="208.7" cy="69.6" r="0.39" fill-opacity="0.73"/><circle cx="209.5" cy="66.0" r="0.40" fill-opacity="0.35"/><circle cx="207.9" cy="70.1" r="0.40" fill-opacity="0.65"/><circle cx="200.8" cy="64.7" r="0.54" fill-opacity="0.74"/><circle cx="211.3" cy="72.6" r="0.52" fill-opacity="0.73"/><circle cx="202.8" cy="75.9" r="0.40" fill-opacity="0.68"/><circle cx="200.9" cy="80.0" r="0.43" fill-opacity="0.60"/><circle cx="206.7" cy="66.0" r="0.43" fill-opacity="0.58"/><circle cx="201.8" cy="79.5" r="0.41" fill-opacity="0.78"/><circle cx="209.7" cy="69.5" r="0.51" fill-opacity="0.30"/><circle cx="197.6" cy="73.1" r="0.39" fill-opacity="0.50"/><circle cx="209.4" cy="71.0" r="0.48" fill-opacity="0.67"/></g>
<g fill="#2a2a96"><circle cx="200.2" cy="65.5" r="0.38" fill-opacity="0.86"/><circle cx="206.9" cy="69.0" r="0.33" fill-opacity="0.70"/><circle cx="212.5" cy="67.7" r="0.54" fill-opacity="0.85"/><circle cx="204.9" cy="64.0" r="0.49" fill-opacity="0.55"/><circle cx="199.2" cy="69.1" r="0.51" fill-opacity="0.83"/><circle cx="214.3" cy="65.4" r="0.32" fill-opacity="0.55"/><circle cx="214.6" cy="64.8" r="0.34" fill-opacity="0.51"/><circle cx="199.8" cy="64.3" r="0.39" fill-opacity="0.57"/><circle cx="204.0" cy="70.5" r="0.34" fill-opacity="0.83"/><circle cx="210.8" cy="68.0" r="0.44" fill-opacity="0.81"/><circle cx="208.4" cy="65.6" r="0.38" fill-opacity="0.60"/><circle cx="205.4" cy="70.9" r="0.41" fill-opacity="0.53"/><circle cx="206.6" cy="69.7" r="0.41" fill-opacity="0.78"/><circle cx="200.5" cy="64.4" r="0.47" fill-opacity="0.52"/><circle cx="203.8" cy="66.7" r="0.35" fill-opacity="0.51"/><circle cx="199.1" cy="70.7" r="0.47" fill-opacity="0.88"/><circle cx="206.9" cy="70.7" r="0.52" fill-opacity="0.75"/><circle cx="207.4" cy="67.6" r="0.36" fill-opacity="0.65"/><circle cx="210.6" cy="65.4" r="0.51" fill-opacity="0.70"/><circle cx="208.7" cy="69.8" r="0.46" fill-opacity="0.56"/><circle cx="203.0" cy="64.0" r="0.31" fill-opacity="0.88"/><circle cx="208.5" cy="70.8" r="0.50" fill-opacity="0.63"/><circle cx="214.5" cy="70.5" r="0.41" fill-opacity="0.53"/><circle cx="204.1" cy="65.2" r="0.39" fill-opacity="0.53"/><circle cx="210.4" cy="70.9" r="0.35" fill-opacity="0.81"/><circle cx="208.4" cy="67.4" r="0.53" fill-opacity="0.65"/><circle cx="212.1" cy="64.2" r="0.54" fill-opacity="0.57"/><circle cx="199.1" cy="70.2" r="0.48" fill-opacity="0.77"/><circle cx="211.3" cy="66.6" r="0.33" fill-opacity="0.63"/><circle cx="214.3" cy="70.9" r="0.36" fill-opacity="0.68"/><circle cx="206.2" cy="70.3" r="0.30" fill-opacity="0.83"/><circle cx="203.1" cy="67.8" r="0.33" fill-opacity="0.53"/><circle cx="213.1" cy="67.5" r="0.54" fill-opacity="0.85"/><circle cx="211.0" cy="64.5" r="0.45" fill-opacity="0.90"/><circle cx="207.0" cy="64.5" r="0.35" fill-opacity="0.90"/><circle cx="214.6" cy="65.7" r="0.38" fill-opacity="0.79"/><circle cx="207.1" cy="65.3" r="0.55" fill-opacity="0.75"/><circle cx="204.8" cy="64.2" r="0.43" fill-opacity="0.80"/><circle cx="201.8" cy="64.6" r="0.48" fill-opacity="0.87"/><circle cx="205.0" cy="67.3" r="0.46" fill-opacity="0.71"/><circle cx="201.1" cy="65.9" r="0.35" fill-opacity="0.58"/><circle cx="200.4" cy="66.7" r="0.35" fill-opacity="0.84"/><circle cx="204.2" cy="70.7" r="0.50" fill-opacity="0.61"/><circle cx="201.5" cy="68.0" r="0.42" fill-opacity="0.71"/><circle cx="201.0" cy="67.7" r="0.49" fill-opacity="0.68"/><circle cx="203.1" cy="70.5" r="0.37" fill-opacity="0.90"/><circle cx="210.0" cy="64.0" r="0.41" fill-opacity="0.56"/><circle cx="211.6" cy="66.9" r="0.32" fill-opacity="0.88"/><circle cx="211.8" cy="68.3" r="0.44" fill-opacity="0.53"/><circle cx="214.7" cy="66.1" r="0.43" fill-opacity="0.70"/></g>
</g>
<path d="M191.4,76.5 L196,74 L200,70 L203,66.5 L210,66 L211.6,70 L208,74 L205,79 L201,84.5 L191.4,84.5 Z" fill="#3c3ca8" opacity="0.32" filter="url(#bl6)"/>
<path d="M191.6,77.1 L196,74.9 L200.9,71.4 L203.6,67.8 L206,67 L208,68.7 L207.1,72.7 L204,78.5 L199.6,83.8 L193.3,82.9 L191.6,81.5 Z" fill="#17177a" filter="url(#bl1)"/>
<ellipse cx="201.8" cy="63.8" rx="1.2" ry="1.0" fill="none" stroke="#17177a" stroke-width="0.7" filter="url(#bl3)"/>
<ellipse cx="210.7" cy="67.4" rx="1.4" ry="1.0" fill="none" stroke="#17177a" stroke-width="0.6" opacity="0.8" filter="url(#bl3)"/>
<path d="M235,74 L237,63 L243,63 L243,72 L238,77 Z" fill="#9a9ade" opacity="0.5" filter="url(#bl2)"/>
<g filter="url(#bl7)">
<g fill="#3535a6"><circle cx="240.5" cy="65.8" r="0.35" fill-opacity="0.76"/><circle cx="243.8" cy="75.5" r="0.47" fill-opacity="0.49"/><circle cx="246.4" cy="73.1" r="0.53" fill-opacity="0.63"/><circle cx="248.3" cy="70.2" r="0.35" fill-opacity="0.37"/><circle cx="246.3" cy="64.5" r="0.50" fill-opacity="0.61"/><circle cx="248.3" cy="65.5" r="0.52" fill-opacity="0.67"/><circle cx="236.1" cy="75.1" r="0.34" fill-opacity="0.76"/><circle cx="244.5" cy="73.8" r="0.35" fill-opacity="0.74"/><circle cx="248.4" cy="67.3" r="0.34" fill-opacity="0.63"/><circle cx="240.9" cy="74.9" r="0.45" fill-opacity="0.50"/><circle cx="241.8" cy="76.3" r="0.43" fill-opacity="0.67"/><circle cx="243.2" cy="79.5" r="0.50" fill-opacity="0.46"/><circle cx="235.9" cy="74.9" r="0.34" fill-opacity="0.74"/><circle cx="245.1" cy="76.7" r="0.48" fill-opacity="0.51"/><circle cx="238.1" cy="70.2" r="0.52" fill-opacity="0.64"/><circle cx="241.0" cy="70.5" r="0.59" fill-opacity="0.44"/><circle cx="237.6" cy="75.4" r="0.38" fill-opacity="0.75"/><circle cx="239.5" cy="80.4" r="0.41" fill-opacity="0.74"/><circle cx="246.8" cy="76.4" r="0.36" fill-opacity="0.38"/><circle cx="245.3" cy="62.4" r="0.37" fill-opacity="0.58"/><circle cx="236.6" cy="67.9" r="0.37" fill-opacity="0.64"/><circle cx="244.2" cy="76.0" r="0.47" fill-opacity="0.55"/><circle cx="244.0" cy="80.8" r="0.49" fill-opacity="0.56"/><circle cx="245.0" cy="64.7" r="0.52" fill-opacity="0.69"/><circle cx="235.2" cy="71.7" r="0.48" fill-opacity="0.48"/><circle cx="249.4" cy="67.5" r="0.35" fill-opacity="0.73"/><circle cx="244.4" cy="78.4" r="0.56" fill-opacity="0.44"/><circle cx="244.0" cy="67.4" r="0.54" fill-opacity="0.65"/><circle cx="238.1" cy="71.5" r="0.48" fill-opacity="0.42"/><circle cx="237.1" cy="71.0" r="0.32" fill-opacity="0.55"/><circle cx="246.2" cy="75.9" r="0.31" fill-opacity="0.68"/><circle cx="237.3" cy="77.9" r="0.40" fill-opacity="0.48"/><circle cx="236.9" cy="79.2" r="0.37" fill-opacity="0.74"/><circle cx="242.7" cy="64.1" r="0.50" fill-opacity="0.57"/><circle cx="240.6" cy="64.9" r="0.46" fill-opacity="0.59"/><circle cx="245.7" cy="71.3" r="0.47" fill-opacity="0.66"/><circle cx="242.2" cy="76.8" r="0.54" fill-opacity="0.73"/><circle cx="241.5" cy="76.0" r="0.33" fill-opacity="0.49"/><circle cx="246.8" cy="68.8" r="0.54" fill-opacity="0.34"/><circle cx="240.3" cy="68.4" r="0.56" fill-opacity="0.39"/><circle cx="248.3" cy="67.6" r="0.57" fill-opacity="0.46"/><circle cx="248.2" cy="65.1" r="0.57" fill-opacity="0.79"/><circle cx="250.4" cy="66.8" r="0.55" fill-opacity="0.69"/><circle cx="239.9" cy="64.5" r="0.57" fill-opacity="0.54"/><circle cx="243.0" cy="79.6" r="0.45" fill-opacity="0.43"/><circle cx="245.7" cy="72.2" r="0.38" fill-opacity="0.65"/><circle cx="249.4" cy="66.2" r="0.54" fill-opacity="0.68"/><circle cx="242.9" cy="65.1" r="0.50" fill-opacity="0.44"/><circle cx="238.3" cy="78.9" r="0.38" fill-opacity="0.35"/><circle cx="239.2" cy="69.5" r="0.46" fill-opacity="0.68"/><circle cx="241.0" cy="80.8" r="0.44" fill-opacity="0.63"/><circle cx="239.0" cy="68.8" r="0.35" fill-opacity="0.51"/><circle cx="235.5" cy="72.9" r="0.59" fill-opacity="0.73"/><circle cx="246.4" cy="74.3" r="0.44" fill-opacity="0.34"/><circle cx="243.7" cy="70.5" r="0.43" fill-opacity="0.44"/><circle cx="234.6" cy="74.0" r="0.49" fill-opacity="0.34"/><circle cx="248.7" cy="72.3" r="0.42" fill-opacity="0.54"/><circle cx="242.8" cy="71.7" r="0.51" fill-opacity="0.44"/><circle cx="238.6" cy="66.7" r="0.45" fill-opacity="0.34"/><circle cx="242.9" cy="64.4" r="0.55" fill-opacity="0.34"/><circle cx="247.6" cy="66.6" r="0.54" fill-opacity="0.70"/><circle cx="250.2" cy="64.7" r="0.60" fill-opacity="0.37"/><circle cx="242.4" cy="62.7" r="0.47" fill-opacity="0.77"/><circle cx="247.3" cy="74.6" r="0.33" fill-opacity="0.79"/><circle cx="237.2" cy="70.6" r="0.46" fill-opacity="0.43"/><circle cx="242.7" cy="69.7" r="0.40" fill-opacity="0.54"/><circle cx="239.9" cy="69.1" r="0.53" fill-opacity="0.37"/><circle cx="235.6" cy="70.4" r="0.39" fill-opacity="0.54"/><circle cx="237.9" cy="68.3" r="0.33" fill-opacity="0.44"/><circle cx="238.4" cy="66.0" r="0.40" fill-opacity="0.77"/></g>
</g>
<path d="M231.4,76.5 L236,75.5 L241,72 L243,66 L247,63.5 L250,64.5 L249.5,69 L246.5,75 L243,80 L241,83 L231.4,83 Z" fill="#3c3ca8" opacity="0.3" filter="url(#bl6)"/>
<path d="M231.6,77.1 L235.1,76.3 L239.6,75.4 L242.2,73.1 L242.7,69.6 L244.9,65.6 L247.6,64.2 L249.2,65.1 L248.9,68.2 L246.3,74 L243.6,78.5 L241.4,82 L236.9,82.9 L231.6,80.8 Z" fill="#17177a" filter="url(#bl1)"/>
<g filter="url(#bl7)">
<g fill="#7a7ad0"><circle cx="194.1" cy="41.5" r="0.35" fill-opacity="0.39"/><circle cx="199.1" cy="38.8" r="0.42" fill-opacity="0.34"/><circle cx="198.2" cy="41.4" r="0.34" fill-opacity="0.40"/><circle cx="196.8" cy="41.0" r="0.49" fill-opacity="0.44"/><circle cx="194.5" cy="40.6" r="0.39" fill-opacity="0.46"/><circle cx="198.1" cy="42.7" r="0.50" fill-opacity="0.46"/><circle cx="204.5" cy="31.6" r="0.48" fill-opacity="0.39"/><circle cx="201.9" cy="39.1" r="0.50" fill-opacity="0.46"/><circle cx="199.0" cy="37.3" r="0.46" fill-opacity="0.48"/><circle cx="199.5" cy="37.9" r="0.47" fill-opacity="0.31"/><circle cx="201.5" cy="38.2" r="0.34" fill-opacity="0.49"/><circle cx="199.0" cy="38.3" r="0.50" fill-opacity="0.39"/><circle cx="203.5" cy="34.1" r="0.40" fill-opacity="0.29"/><circle cx="200.3" cy="35.9" r="0.46" fill-opacity="0.28"/><circle cx="192.1" cy="39.2" r="0.44" fill-opacity="0.43"/><circle cx="199.2" cy="37.0" r="0.49" fill-opacity="0.32"/><circle cx="201.1" cy="39.4" r="0.45" fill-opacity="0.37"/><circle cx="192.2" cy="40.9" r="0.36" fill-opacity="0.45"/><circle cx="197.2" cy="42.0" r="0.38" fill-opacity="0.33"/><circle cx="199.4" cy="39.1" r="0.44" fill-opacity="0.39"/><circle cx="197.3" cy="40.4" r="0.36" fill-opacity="0.40"/><circle cx="203.3" cy="33.0" r="0.38" fill-opacity="0.26"/></g>
<g fill="#7a7ad0"><circle cx="247.7" cy="27.9" r="0.45" fill-opacity="0.37"/><circle cx="246.7" cy="29.7" r="0.50" fill-opacity="0.35"/><circle cx="244.5" cy="34.1" r="0.47" fill-opacity="0.47"/><circle cx="241.2" cy="38.4" r="0.48" fill-opacity="0.39"/><circle cx="242.5" cy="34.3" r="0.31" fill-opacity="0.25"/><circle cx="242.5" cy="36.0" r="0.39" fill-opacity="0.29"/><circle cx="238.9" cy="36.3" r="0.45" fill-opacity="0.45"/><circle cx="234.4" cy="43.3" r="0.47" fill-opacity="0.45"/><circle cx="245.0" cy="31.1" r="0.44" fill-opacity="0.46"/><circle cx="240.5" cy="38.4" r="0.32" fill-opacity="0.42"/><circle cx="234.3" cy="39.3" r="0.48" fill-opacity="0.34"/><circle cx="240.0" cy="38.4" r="0.33" fill-opacity="0.36"/><circle cx="244.7" cy="29.6" r="0.44" fill-opacity="0.50"/><circle cx="236.0" cy="41.2" r="0.32" fill-opacity="0.44"/><circle cx="236.2" cy="39.9" r="0.48" fill-opacity="0.46"/><circle cx="237.1" cy="41.9" r="0.36" fill-opacity="0.29"/><circle cx="235.6" cy="39.0" r="0.37" fill-opacity="0.30"/><circle cx="240.9" cy="38.0" r="0.42" fill-opacity="0.46"/><circle cx="243.1" cy="31.6" r="0.43" fill-opacity="0.38"/><circle cx="246.8" cy="29.0" r="0.39" fill-opacity="0.49"/><circle cx="233.1" cy="39.4" r="0.48" fill-opacity="0.40"/><circle cx="232.9" cy="40.2" r="0.35" fill-opacity="0.38"/></g>
<g fill="#7a7ad0"><circle cx="198.8" cy="79.0" r="0.49" fill-opacity="0.38"/><circle cx="204.9" cy="69.5" r="0.33" fill-opacity="0.50"/><circle cx="203.2" cy="72.7" r="0.45" fill-opacity="0.29"/><circle cx="197.4" cy="75.2" r="0.35" fill-opacity="0.28"/><circle cx="199.6" cy="78.1" r="0.36" fill-opacity="0.42"/><circle cx="202.2" cy="74.8" r="0.39" fill-opacity="0.31"/><circle cx="198.7" cy="80.5" r="0.35" fill-opacity="0.34"/><circle cx="194.1" cy="81.9" r="0.34" fill-opacity="0.38"/><circle cx="201.6" cy="78.2" r="0.39" fill-opacity="0.38"/><circle cx="206.0" cy="71.4" r="0.34" fill-opacity="0.33"/><circle cx="203.1" cy="74.9" r="0.38" fill-opacity="0.27"/><circle cx="193.9" cy="78.1" r="0.35" fill-opacity="0.37"/><circle cx="194.9" cy="81.7" r="0.42" fill-opacity="0.37"/><circle cx="195.4" cy="80.7" r="0.41" fill-opacity="0.28"/><circle cx="193.4" cy="81.2" r="0.35" fill-opacity="0.39"/><circle cx="202.8" cy="76.5" r="0.38" fill-opacity="0.32"/><circle cx="202.4" cy="72.6" r="0.42" fill-opacity="0.49"/><circle cx="200.0" cy="75.0" r="0.47" fill-opacity="0.44"/><circle cx="198.5" cy="76.4" r="0.40" fill-opacity="0.42"/><circle cx="201.6" cy="78.2" r="0.34" fill-opacity="0.45"/><circle cx="201.0" cy="73.5" r="0.37" fill-opacity="0.27"/><circle cx="197.7" cy="77.1" r="0.31" fill-opacity="0.46"/></g>
<g fill="#7a7ad0"><circle cx="246.6" cy="68.2" r="0.41" fill-opacity="0.37"/><circle cx="238.1" cy="80.6" r="0.48" fill-opacity="0.43"/><circle cx="240.8" cy="75.6" r="0.41" fill-opacity="0.38"/><circle cx="246.9" cy="70.4" r="0.33" fill-opacity="0.50"/><circle cx="239.0" cy="80.4" r="0.38" fill-opacity="0.25"/><circle cx="243.2" cy="73.1" r="0.42" fill-opacity="0.50"/><circle cx="246.3" cy="71.8" r="0.30" fill-opacity="0.46"/><circle cx="241.7" cy="72.1" r="0.38" fill-opacity="0.28"/><circle cx="237.4" cy="78.9" r="0.47" fill-opacity="0.40"/><circle cx="242.5" cy="72.7" r="0.36" fill-opacity="0.45"/><circle cx="244.4" cy="74.9" r="0.49" fill-opacity="0.45"/><circle cx="247.4" cy="67.5" r="0.34" fill-opacity="0.28"/><circle cx="234.8" cy="77.2" r="0.41" fill-opacity="0.28"/><circle cx="235.2" cy="77.9" r="0.36" fill-opacity="0.30"/><circle cx="244.9" cy="70.2" r="0.32" fill-opacity="0.38"/><circle cx="239.1" cy="80.7" r="0.31" fill-opacity="0.42"/><circle cx="246.9" cy="70.8" r="0.37" fill-opacity="0.39"/><circle cx="234.4" cy="80.3" r="0.39" fill-opacity="0.47"/><circle cx="234.7" cy="78.0" r="0.35" fill-opacity="0.34"/><circle cx="243.6" cy="70.4" r="0.41" fill-opacity="0.33"/><circle cx="243.2" cy="74.2" r="0.49" fill-opacity="0.36"/><circle cx="237.9" cy="79.4" r="0.42" fill-opacity="0.39"/></g>
</g>
<line x1="307.5" y1="15.5" x2="307.5" y2="82.89999999999999" stroke="#222" stroke-width="0.8" />
<line x1="305.5" y1="82.6" x2="307.5" y2="82.6" stroke="#222" stroke-width="0.7" />
<text x="304.4" y="84.35" font-size="4.8" text-anchor="middle" font-weight="normal" fill="#1a1a1a" stroke="#1a1a1a" stroke-width="0.18" >0</text>
<line x1="305.5" y1="60.39999999999999" x2="307.5" y2="60.39999999999999" stroke="#222" stroke-width="0.7" />
<text x="303.4" y="62.14999999999999" font-size="4.8" text-anchor="middle" font-weight="normal" fill="#1a1a1a" stroke="#1a1a1a" stroke-width="0.18" >10</text>
<line x1="305.5" y1="38.19999999999999" x2="307.5" y2="38.19999999999999" stroke="#222" stroke-width="0.7" />
<text x="303.4" y="39.94999999999999" font-size="4.8" text-anchor="middle" font-weight="normal" fill="#1a1a1a" stroke="#1a1a1a" stroke-width="0.18" >20</text>
<line x1="305.5" y1="15.999999999999986" x2="307.5" y2="15.999999999999986" stroke="#222" stroke-width="0.7" />
<text x="303.4" y="17.749999999999986" font-size="4.8" text-anchor="middle" font-weight="normal" fill="#1a1a1a" stroke="#1a1a1a" stroke-width="0.18" >30</text>
<line x1="306.4" y1="71.5" x2="307.5" y2="71.5" stroke="#222" stroke-width="0.6" />
<line x1="306.4" y1="49.29999999999999" x2="307.5" y2="49.29999999999999" stroke="#222" stroke-width="0.6" />
<line x1="306.4" y1="27.099999999999987" x2="307.5" y2="27.099999999999987" stroke="#222" stroke-width="0.6" />
<line x1="307.5" y1="82.6" x2="398" y2="82.6" stroke="#222" stroke-width="0.8" />
<text x="297.6" y="46.7" font-size="5.0" text-anchor="middle" font-weight="normal" fill="#1a1a1a" stroke="#1a1a1a" stroke-width="0.18" transform="rotate(-90 297.6 46.7)" textLength="49.5" lengthAdjust="spacingAndGlyphs">% AnnexinV<tspan dy="-1.6" font-size="3.2">+</tspan><tspan dy="1.6"> PI</tspan><tspan dy="-1.6" font-size="3.2">+</tspan><tspan dy="1.6"> cells</tspan></text>
<rect x="317.2" y="73.4" width="10.8" height="9.199999999999989" fill="#c4c4c4" stroke="#777" stroke-width="0.4" />
<rect x="333.0" y="68.6" width="9.6" height="14.0" fill="#000" stroke="#000" stroke-width="0.4" />
<rect x="362.4" y="60.0" width="10.6" height="22.599999999999994" fill="#c4c4c4" stroke="#777" stroke-width="0.4" />
<rect x="377.9" y="46.0" width="10.2" height="36.599999999999994" fill="#000" stroke="#000" stroke-width="0.4" />
<line x1="322.6" y1="73" x2="322.6" y2="72" stroke="#777" stroke-width="0.5" />
<line x1="367.4" y1="59.8" x2="367.4" y2="57" stroke="#777" stroke-width="0.5" />
<line x1="366.4" y1="57" x2="368.4" y2="57" stroke="#777" stroke-width="0.5" />
<line x1="382.9" y1="45.8" x2="382.9" y2="43.8" stroke="#222" stroke-width="0.5" />
<line x1="382.0" y1="43.8" x2="383.8" y2="43.8" stroke="#222" stroke-width="0.5" />
<circle cx="327.4" cy="61.2" r="0.75" fill="#111"/><circle cx="329.9" cy="61.2" r="0.75" fill="#111"/><circle cx="332.4" cy="61.2" r="0.75" fill="#111"/>
<line x1="322.9" y1="65.9" x2="337.9" y2="65.9" stroke="#aaa" stroke-width="0.8" />
<circle cx="372.5" cy="36.8" r="0.75" fill="#111"/><circle cx="374.95" cy="36.8" r="0.75" fill="#111"/><circle cx="377.4" cy="36.8" r="0.75" fill="#111"/>
<line x1="368.0" y1="41.25" x2="382.6" y2="41.25" stroke="#aaa" stroke-width="0.8" />
<line x1="317.0" y1="86.4" x2="341.5" y2="86.4" stroke="#999" stroke-width="0.6" />
<line x1="363.0" y1="86.4" x2="388.5" y2="86.4" stroke="#999" stroke-width="0.6" />
<text x="329.6" y="91.4" font-size="4.9" text-anchor="middle" font-weight="normal" fill="#1a1a1a" stroke="#1a1a1a" stroke-width="0.18" >48h</text>
<text x="373.6" y="91.4" font-size="4.9" text-anchor="middle" font-weight="normal" fill="#1a1a1a" stroke="#1a1a1a" stroke-width="0.18" >72h</text>
<rect x="313.4" y="15.7" width="7.6" height="3.7" fill="#c4c4c4" stroke="#888" stroke-width="0.4" />
<rect x="313.4" y="20.9" width="7.6" height="3.6" fill="#000" stroke="none" stroke-width="0.6" />
<text x="321.9" y="19.4" font-size="4.6" text-anchor="start" font-weight="normal" fill="#1a1a1a" stroke="#1a1a1a" stroke-width="0.18" textLength="20.8" lengthAdjust="spacingAndGlyphs">Normal Salt</text>
<text x="321.9" y="24.2" font-size="4.6" text-anchor="start" font-weight="normal" fill="#1a1a1a" stroke="#1a1a1a" stroke-width="0.18" textLength="16.4" lengthAdjust="spacingAndGlyphs">High Salt</text>
<text x="5.4" y="132.2" font-size="7.0" text-anchor="middle" font-weight="bold" fill="#111" stroke="#111" stroke-width="0.25" >C</text>
<text x="46.9" y="125.6" font-size="5.0" text-anchor="middle" font-weight="normal" fill="#1a1a1a" stroke="#1a1a1a" stroke-width="0.18" >24h</text>
<text x="85.8" y="125.6" font-size="5.0" text-anchor="middle" font-weight="normal" fill="#1a1a1a" stroke="#1a1a1a" stroke-width="0.18" >48h</text>
<text x="125.1" y="125.6" font-size="5.0" text-anchor="middle" font-weight="normal" fill="#1a1a1a" stroke="#1a1a1a" stroke-width="0.18" >72h</text>
<line x1="22.4" y1="131.0" x2="22.4" y2="211.6" stroke="#444" stroke-width="0.8" />
<path d="M22.4,129.0 L21.3,131.8 L23.5,131.8 Z" fill="#444"/>
<line x1="22.4" y1="211.6" x2="143.5" y2="211.6" stroke="#444" stroke-width="0.8" />
<path d="M145.8,211.6 L143,210.5 L143,212.7 Z" fill="#444"/>
<text x="20.7" y="170.8" font-size="4.8" text-anchor="middle" font-weight="normal" fill="#1a1a1a" stroke="#1a1a1a" stroke-width="0.3" transform="rotate(-90 20.7 170.8)" >FS INT</text>
<text x="85.3" y="218.4" font-size="4.6" text-anchor="middle" font-weight="normal" fill="#1a1a1a" stroke="#1a1a1a" stroke-width="0.18" textLength="18.2" lengthAdjust="spacingAndGlyphs">FI (CFSE)</text>
<text x="147.7" y="149.3" font-size="5.4" text-anchor="middle" font-weight="normal" fill="#1a1a1a" stroke="#1a1a1a" stroke-width="0.18" transform="rotate(90 147.7 149.3)" textLength="24.8" lengthAdjust="spacingAndGlyphs">Normal Salt</text>
<text x="147.7" y="189.3" font-size="5.4" text-anchor="middle" font-weight="normal" fill="#1a1a1a" stroke="#1a1a1a" stroke-width="0.18" transform="rotate(90 147.7 189.3)" textLength="19.3" lengthAdjust="spacingAndGlyphs">High Salt</text>
<rect x="32.4" y="132.7" width="32.1" height="32.2" fill="none" stroke="#bbb" stroke-width="0.5" />
<rect x="28.4" y="132.79999999999998" width="2.4" height="1.0" fill="#666" stroke="none" stroke-width="0.6" />
<rect x="28.4" y="139.1" width="2.4" height="1.0" fill="#666" stroke="none" stroke-width="0.6" />
<rect x="28.4" y="145.39999999999998" width="2.4" height="1.0" fill="#666" stroke="none" stroke-width="0.6" />
<rect x="28.4" y="151.7" width="2.4" height="1.0" fill="#666" stroke="none" stroke-width="0.6" />
<rect x="28.4" y="157.99999999999997" width="2.4" height="1.0" fill="#666" stroke="none" stroke-width="0.6" />
<line x1="40.425" y1="164.89999999999998" x2="40.425" y2="165.89999999999998" stroke="#999" stroke-width="0.5" />
<rect x="39.425" y="166.49999999999997" width="2.0" height="0.9" fill="#888" stroke="none" stroke-width="0.6" />
<line x1="48.45" y1="164.89999999999998" x2="48.45" y2="165.89999999999998" stroke="#999" stroke-width="0.5" />
<rect x="47.45" y="166.49999999999997" width="2.0" height="0.9" fill="#888" stroke="none" stroke-width="0.6" />
<line x1="56.475" y1="164.89999999999998" x2="56.475" y2="165.89999999999998" stroke="#999" stroke-width="0.5" />
<rect x="55.475" y="166.49999999999997" width="2.0" height="0.9" fill="#888" stroke="none" stroke-width="0.6" />
<rect x="32.4" y="172.5" width="32.1" height="31.9" fill="none" stroke="#bbb" stroke-width="0.5" />
<rect x="28.4" y="172.6" width="2.4" height="1.0" fill="#666" stroke="none" stroke-width="0.6" />
<rect x="28.4" y="178.9" width="2.4" height="1.0" fill="#666" stroke="none" stroke-width="0.6" />
<rect x="28.4" y="185.2" width="2.4" height="1.0" fill="#666" stroke="none" stroke-width="0.6" />
<rect x="28.4" y="191.5" width="2.4" height="1.0" fill="#666" stroke="none" stroke-width="0.6" />
<rect x="28.4" y="197.79999999999998" width="2.4" height="1.0" fill="#666" stroke="none" stroke-width="0.6" />
<line x1="40.425" y1="204.4" x2="40.425" y2="205.4" stroke="#999" stroke-width="0.5" />
<rect x="39.425" y="206.0" width="2.0" height="0.9" fill="#888" stroke="none" stroke-width="0.6" />
<line x1="48.45" y1="204.4" x2="48.45" y2="205.4" stroke="#999" stroke-width="0.5" />
<rect x="47.45" y="206.0" width="2.0" height="0.9" fill="#888" stroke="none" stroke-width="0.6" />
<line x1="56.475" y1="204.4" x2="56.475" y2="205.4" stroke="#999" stroke-width="0.5" />
<rect x="55.475" y="206.0" width="2.0" height="0.9" fill="#888" stroke="none" stroke-width="0.6" />
<rect x="69.6" y="132.7" width="34.0" height="32.2" fill="none" stroke="#bbb" stroke-width="0.5" />
<rect x="65.6" y="132.79999999999998" width="2.4" height="1.0" fill="#666" stroke="none" stroke-width="0.6" />
<rect x="65.6" y="139.1" width="2.4" height="1.0" fill="#666" stroke="none" stroke-width="0.6" />
<rect x="65.6" y="145.39999999999998" width="2.4" height="1.0" fill="#666" stroke="none" stroke-width="0.6" />
<rect x="65.6" y="151.7" width="2.4" height="1.0" fill="#666" stroke="none" stroke-width="0.6" />
<rect x="65.6" y="157.99999999999997" width="2.4" height="1.0" fill="#666" stroke="none" stroke-width="0.6" />
<line x1="78.1" y1="164.89999999999998" x2="78.1" y2="165.89999999999998" stroke="#999" stroke-width="0.5" />
<rect x="77.1" y="166.49999999999997" width="2.0" height="0.9" fill="#888" stroke="none" stroke-width="0.6" />
<line x1="86.6" y1="164.89999999999998" x2="86.6" y2="165.89999999999998" stroke="#999" stroke-width="0.5" />
<rect x="85.6" y="166.49999999999997" width="2.0" height="0.9" fill="#888" stroke="none" stroke-width="0.6" />
<line x1="95.1" y1="164.89999999999998" x2="95.1" y2="165.89999999999998" stroke="#999" stroke-width="0.5" />
<rect x="94.1" y="166.49999999999997" width="2.0" height="0.9" fill="#888" stroke="none" stroke-width="0.6" />
<rect x="69.6" y="172.5" width="34.0" height="31.9" fill="none" stroke="#bbb" stroke-width="0.5" />
<rect x="65.6" y="172.6" width="2.4" height="1.0" fill="#666" stroke="none" stroke-width="0.6" />
<rect x="65.6" y="178.9" width="2.4" height="1.0" fill="#666" stroke="none" stroke-width="0.6" />
<rect x="65.6" y="185.2" width="2.4" height="1.0" fill="#666" stroke="none" stroke-width="0.6" />
<rect x="65.6" y="191.5" width="2.4" height="1.0" fill="#666" stroke="none" stroke-width="0.6" />
<rect x="65.6" y="197.79999999999998" width="2.4" height="1.0" fill="#666" stroke="none" stroke-width="0.6" />
<line x1="78.1" y1="204.4" x2="78.1" y2="205.4" stroke="#999" stroke-width="0.5" />
<rect x="77.1" y="206.0" width="2.0" height="0.9" fill="#888" stroke="none" stroke-width="0.6" />
<line x1="86.6" y1="204.4" x2="86.6" y2="205.4" stroke="#999" stroke-width="0.5" />
<rect x="85.6" y="206.0" width="2.0" height="0.9" fill="#888" stroke="none" stroke-width="0.6" />
<line x1="95.1" y1="204.4" x2="95.1" y2="205.4" stroke="#999" stroke-width="0.5" />
<rect x="94.1" y="206.0" width="2.0" height="0.9" fill="#888" stroke="none" stroke-width="0.6" />
<rect x="109.4" y="132.7" width="33.0" height="32.2" fill="none" stroke="#bbb" stroke-width="0.5" />
<rect x="105.4" y="132.79999999999998" width="2.4" height="1.0" fill="#666" stroke="none" stroke-width="0.6" />
<rect x="105.4" y="139.1" width="2.4" height="1.0" fill="#666" stroke="none" stroke-width="0.6" />
<rect x="105.4" y="145.39999999999998" width="2.4" height="1.0" fill="#666" stroke="none" stroke-width="0.6" />
<rect x="105.4" y="151.7" width="2.4" height="1.0" fill="#666" stroke="none" stroke-width="0.6" />
<rect x="105.4" y="157.99999999999997" width="2.4" height="1.0" fill="#666" stroke="none" stroke-width="0.6" />
<line x1="117.65" y1="164.89999999999998" x2="117.65" y2="165.89999999999998" stroke="#999" stroke-width="0.5" />
<rect x="116.65" y="166.49999999999997" width="2.0" height="0.9" fill="#888" stroke="none" stroke-width="0.6" />
<line x1="125.9" y1="164.89999999999998" x2="125.9" y2="165.89999999999998" stroke="#999" stroke-width="0.5" />
<rect x="124.9" y="166.49999999999997" width="2.0" height="0.9" fill="#888" stroke="none" stroke-width="0.6" />
<line x1="134.15" y1="164.89999999999998" x2="134.15" y2="165.89999999999998" stroke="#999" stroke-width="0.5" />
<rect x="133.15" y="166.49999999999997" width="2.0" height="0.9" fill="#888" stroke="none" stroke-width="0.6" />
<rect x="109.4" y="172.5" width="33.0" height="31.9" fill="none" stroke="#bbb" stroke-width="0.5" />
<rect x="105.4" y="172.6" width="2.4" height="1.0" fill="#666" stroke="none" stroke-width="0.6" />
<rect x="105.4" y="178.9" width="2.4" height="1.0" fill="#666" stroke="none" stroke-width="0.6" />
<rect x="105.4" y="185.2" width="2.4" height="1.0" fill="#666" stroke="none" stroke-width="0.6" />
<rect x="105.4" y="191.5" width="2.4" height="1.0" fill="#666" stroke="none" stroke-width="0.6" />
<rect x="105.4" y="197.79999999999998" width="2.4" height="1.0" fill="#666" stroke="none" stroke-width="0.6" />
<line x1="117.65" y1="204.4" x2="117.65" y2="205.4" stroke="#999" stroke-width="0.5" />
<rect x="116.65" y="206.0" width="2.0" height="0.9" fill="#888" stroke="none" stroke-width="0.6" />
<line x1="125.9" y1="204.4" x2="125.9" y2="205.4" stroke="#999" stroke-width="0.5" />
<rect x="124.9" y="206.0" width="2.0" height="0.9" fill="#888" stroke="none" stroke-width="0.6" />
<line x1="134.15" y1="204.4" x2="134.15" y2="205.4" stroke="#999" stroke-width="0.5" />
<rect x="133.15" y="206.0" width="2.0" height="0.9" fill="#888" stroke="none" stroke-width="0.6" />
<line x1="32.4" y1="148.7" x2="54" y2="148.7" stroke="#aaa" stroke-width="0.6" />
<line x1="69.6" y1="148.7" x2="86.5" y2="148.7" stroke="#aaa" stroke-width="0.6" />
<line x1="109.5" y1="148.7" x2="118.5" y2="148.7" stroke="#aaa" stroke-width="0.6" />
<line x1="32.4" y1="188.6" x2="54" y2="188.6" stroke="#aaa" stroke-width="0.6" />
<line x1="69.6" y1="188.6" x2="86.5" y2="188.6" stroke="#aaa" stroke-width="0.6" />
<line x1="109.5" y1="188.6" x2="118.5" y2="188.6" stroke="#aaa" stroke-width="0.6" />
<text x="90.2" y="131.0" font-size="3.4" text-anchor="middle" font-weight="normal" fill="#e44a44" stroke="#e44a44" stroke-width="0.05" letter-spacing="0.45">3210</text>
<text x="125.4" y="131.0" font-size="3.4" text-anchor="middle" font-weight="normal" fill="#e44a44" stroke="#e44a44" stroke-width="0.05" letter-spacing="0.5">6543210</text>
<text x="91.3" y="170.9" font-size="3.4" text-anchor="middle" font-weight="normal" fill="#e44a44" stroke="#e44a44" stroke-width="0.05" letter-spacing="0.45">210</text>
<text x="127.0" y="170.9" font-size="3.4" text-anchor="middle" font-weight="normal" fill="#e44a44" stroke="#e44a44" stroke-width="0.05" letter-spacing="0.5">543210</text>
<defs><filter id="bl4" x="-50%" y="-50%" width="200%" height="200%"><feGaussianBlur stdDeviation="0.7"/></filter><filter id="bl5" x="-50%" y="-50%" width="200%" height="200%"><feGaussianBlur stdDeviation="0.45"/></filter><linearGradient id="gs" x1="0" y1="1" x2="0" y2="0"><stop offset="0" stop-color="#1a2430"/><stop offset="0.5" stop-color="#333"/><stop offset="1" stop-color="#777"/></linearGradient></defs>
<path d="M54.3,155.6 L57.9,132.8 L60.8,132.8 L58.2,155.6 Z" fill="url(#gs)" opacity="0.45" filter="url(#bl4)"/>
<path d="M55.4,155.6 L58.6,132.8 L60.2,132.8 L57.4,155.6 Z" fill="url(#gs)" opacity="0.95" filter="url(#bl5)"/>
<path d="M54.2,155.6 L54.9,148.1 L57.9,148.1 L58.0,155.6 Z" fill="#1a2e48" filter="url(#bl5)"/>
<ellipse cx="55.9" cy="152.6" rx="0.9" ry="2.2" fill="#3a74a4" filter="url(#bl5)"/>
<path d="M53.3,195.6 L56.9,172.6 L59.8,172.6 L57.2,195.6 Z" fill="url(#gs)" opacity="0.45" filter="url(#bl4)"/>
<path d="M54.4,195.6 L57.6,172.6 L59.2,172.6 L56.4,195.6 Z" fill="url(#gs)" opacity="0.95" filter="url(#bl5)"/>
<path d="M53.2,195.6 L53.9,188.1 L56.9,188.1 L57.0,195.6 Z" fill="#1a2e48" filter="url(#bl5)"/>
<ellipse cx="54.9" cy="192.6" rx="0.9" ry="2.2" fill="#3a74a4" filter="url(#bl5)"/>
<defs><linearGradient id="gfade" x1="0" y1="0" x2="0" y2="1"><stop offset="0" stop-color="#888" stop-opacity="0.55"/><stop offset="0.6" stop-color="#999" stop-opacity="0.4"/><stop offset="1" stop-color="#bbb" stop-opacity="0"/></linearGradient><linearGradient id="gfade2" x1="0" y1="0" x2="0" y2="1"><stop offset="0" stop-color="#444" stop-opacity="0.8"/><stop offset="0.7" stop-color="#555" stop-opacity="0.5"/><stop offset="1" stop-color="#777" stop-opacity="0"/></linearGradient></defs>
<line x1="87.2" y1="132.8" x2="87.2" y2="136.8" stroke="#f0a0a0" stroke-width="0.4" opacity="0.7"/>
<line x1="89.4" y1="132.8" x2="89.4" y2="136.8" stroke="#f0a0a0" stroke-width="0.4" opacity="0.7"/>
<line x1="91.6" y1="132.8" x2="91.6" y2="136.8" stroke="#f0a0a0" stroke-width="0.4" opacity="0.7"/>
<line x1="93.6" y1="132.8" x2="93.6" y2="136.8" stroke="#f0a0a0" stroke-width="0.4" opacity="0.7"/>
<path d="M93.3,132.8 L95.3,132.8 L95.0,146.8 L93.5,146.8 Z" fill="url(#gfade2)" filter="url(#bl5)"/>
<path d="M84.90,132.80 L93.60,132.80 L93.08,142.84 C92.56,147.38 90.82,149.00 89.25,149.00 C87.68,149.00 85.94,147.38 85.42,142.84 Z" fill="#262472" filter="url(#bl5)"/>
<path d="M86.60,133.00 L92.20,133.00 L91.86,141.37 C91.53,145.15 90.41,146.50 89.40,146.50 C88.39,146.50 87.27,145.15 86.94,141.37 Z" fill="#2a5aa6" filter="url(#bl4)"/>
<ellipse cx="89.45" cy="138.8" rx="1.3" ry="4.8" fill="#3a8ac4" filter="url(#bl4)"/>
<path d="M91.8,145.3 L94.6,145.3 L95.0,155.8 L92.6,155.8 Z" fill="#146f5a" filter="url(#bl5)"/>
<ellipse cx="93.8" cy="152.3" rx="0.8" ry="2.4" fill="#25a876" filter="url(#bl5)"/>
<line x1="89.3" y1="172.60000000000002" x2="89.3" y2="176.60000000000002" stroke="#f0a0a0" stroke-width="0.4" opacity="0.7"/>
<line x1="91.5" y1="172.60000000000002" x2="91.5" y2="176.60000000000002" stroke="#f0a0a0" stroke-width="0.4" opacity="0.7"/>
<line x1="93.7" y1="172.60000000000002" x2="93.7" y2="176.60000000000002" stroke="#f0a0a0" stroke-width="0.4" opacity="0.7"/>
<line x1="95.7" y1="172.60000000000002" x2="95.7" y2="176.60000000000002" stroke="#f0a0a0" stroke-width="0.4" opacity="0.7"/>
<path d="M94.1,172.60000000000002 L96.1,172.60000000000002 L95.8,186.60000000000002 L94.3,186.60000000000002 Z" fill="url(#gfade2)" filter="url(#bl5)"/>
<path d="M87.00,172.60 L94.40,172.60 L93.96,183.51 C93.51,188.44 92.03,190.20 90.70,190.20 C89.37,190.20 87.89,188.44 87.44,183.51 Z" fill="#262472" filter="url(#bl5)"/>
<path d="M88.70,172.80 L93.00,172.80 L92.74,182.04 C92.48,186.21 91.62,187.70 90.85,187.70 C90.08,187.70 89.22,186.21 88.96,182.04 Z" fill="#2a5aa6" filter="url(#bl4)"/>
<ellipse cx="90.9" cy="178.60000000000002" rx="1.3" ry="4.8" fill="#3a8ac4" filter="url(#bl4)"/>
<path d="M92.0,186.60000000000002 L95.0,186.60000000000002 L96.6,195.60000000000002 L93.6,195.60000000000002 Z" fill="#146f5a" filter="url(#bl5)"/>
<ellipse cx="95.1" cy="192.10000000000002" rx="0.8" ry="2.4" fill="#25a876" filter="url(#bl5)"/>
<line x1="118.5" y1="132.8" x2="118.5" y2="136.3" stroke="#f0a0a0" stroke-width="0.4" opacity="0.6"/>
<line x1="120.6" y1="132.8" x2="120.6" y2="136.3" stroke="#f0a0a0" stroke-width="0.4" opacity="0.6"/>
<line x1="122.8" y1="132.8" x2="122.8" y2="136.3" stroke="#f0a0a0" stroke-width="0.4" opacity="0.6"/>
<line x1="125.0" y1="132.8" x2="125.0" y2="136.3" stroke="#f0a0a0" stroke-width="0.4" opacity="0.6"/>
<line x1="127.2" y1="132.8" x2="127.2" y2="136.3" stroke="#f0a0a0" stroke-width="0.4" opacity="0.6"/>
<line x1="129.4" y1="132.8" x2="129.4" y2="136.3" stroke="#f0a0a0" stroke-width="0.4" opacity="0.6"/>
<path d="M124.2,132.8 L131,132.8 L130.6,160.8 L124.2,160.8 Z" fill="url(#gfade)"/>
<rect x="125.10" y="132.8" width="0.6" height="24" fill="url(#gfade2)" opacity="0.8"/>
<rect x="126.20" y="132.8" width="0.6" height="26" fill="url(#gfade2)" opacity="0.7"/>
<rect x="127.30" y="132.8" width="0.6" height="27" fill="url(#gfade2)" opacity="0.6"/>
<rect x="128.40" y="132.8" width="0.6" height="26" fill="url(#gfade2)" opacity="0.5"/>
<rect x="129.50" y="132.8" width="0.6" height="24" fill="url(#gfade2)" opacity="0.4"/>
<rect x="132.90" y="132.8" width="0.6" height="18" fill="url(#gfade2)" opacity="0.35"/>
<path d="M123.8,132.8 L127.2,132.8 L126.6,149.8 L124,151.8 Z" fill="#2c3658" opacity="0.85" filter="url(#bl5)"/>
<path d="M116.60,132.80 L125.00,132.80 L124.50,144.21 C123.99,149.36 122.31,151.20 120.80,151.20 C119.29,151.20 117.61,149.36 117.10,144.21 Z" fill="#1c2d62" filter="url(#bl5)"/>
<path d="M117.30,133.00 L124.30,133.00 L123.88,143.79 C123.46,148.66 122.06,150.40 120.80,150.40 C119.54,150.40 118.14,148.66 117.72,143.79 Z" fill="#1b8a84" filter="url(#bl5)"/>
<ellipse cx="120.2" cy="140.3" rx="1.4" ry="6" fill="#38bc8a" filter="url(#bl4)"/>
<ellipse cx="132.0" cy="152.4" rx="0.9" ry="3.1" fill="#2a2a40" filter="url(#bl5)"/>
<line x1="119.9" y1="172.60000000000002" x2="119.9" y2="176.10000000000002" stroke="#f0a0a0" stroke-width="0.4" opacity="0.6"/>
<line x1="122.0" y1="172.60000000000002" x2="122.0" y2="176.10000000000002" stroke="#f0a0a0" stroke-width="0.4" opacity="0.6"/>
<line x1="124.2" y1="172.60000000000002" x2="124.2" y2="176.10000000000002" stroke="#f0a0a0" stroke-width="0.4" opacity="0.6"/>
<line x1="126.4" y1="172.60000000000002" x2="126.4" y2="176.10000000000002" stroke="#f0a0a0" stroke-width="0.4" opacity="0.6"/>
<line x1="128.6" y1="172.60000000000002" x2="128.6" y2="176.10000000000002" stroke="#f0a0a0" stroke-width="0.4" opacity="0.6"/>
<line x1="130.8" y1="172.60000000000002" x2="130.8" y2="176.10000000000002" stroke="#f0a0a0" stroke-width="0.4" opacity="0.6"/>
<path d="M125.6,172.60000000000002 L132.4,172.60000000000002 L132.0,200.60000000000002 L125.6,200.60000000000002 Z" fill="url(#gfade)"/>
<rect x="126.50" y="172.60000000000002" width="0.6" height="24" fill="url(#gfade2)" opacity="0.8"/>
<rect x="127.60" y="172.60000000000002" width="0.6" height="26" fill="url(#gfade2)" opacity="0.7"/>
<rect x="128.70" y="172.60000000000002" width="0.6" height="27" fill="url(#gfade2)" opacity="0.6"/>
<rect x="129.80" y="172.60000000000002" width="0.6" height="26" fill="url(#gfade2)" opacity="0.5"/>
<rect x="130.90" y="172.60000000000002" width="0.6" height="24" fill="url(#gfade2)" opacity="0.4"/>
<rect x="134.30" y="172.60000000000002" width="0.6" height="18" fill="url(#gfade2)" opacity="0.35"/>
<path d="M125.2,172.60000000000002 L128.6,172.60000000000002 L128.0,189.60000000000002 L125.4,191.60000000000002 Z" fill="#2c3658" opacity="0.85" filter="url(#bl5)"/>
<path d="M118.00,172.60 L126.40,172.60 L125.90,184.01 C125.39,189.16 123.71,191.00 122.20,191.00 C120.69,191.00 119.01,189.16 118.50,184.01 Z" fill="#1c2d62" filter="url(#bl5)"/>
<path d="M118.70,172.80 L125.70,172.80 L125.28,183.59 C124.86,188.46 123.46,190.20 122.20,190.20 C120.94,190.20 119.54,188.46 119.12,183.59 Z" fill="#1b8a84" filter="url(#bl5)"/>
<ellipse cx="121.6" cy="180.10000000000002" rx="1.4" ry="6" fill="#38bc8a" filter="url(#bl4)"/>
<ellipse cx="133.4" cy="192.20000000000002" rx="0.9" ry="3.1" fill="#2a2a40" filter="url(#bl5)"/>
<text x="222.9" y="126.2" font-size="4.95" text-anchor="middle" font-weight="normal" fill="#1a1a1a" stroke="#1a1a1a" stroke-width="0.18" >Normal Salt</text>
<text x="306.2" y="126.2" font-size="4.8" text-anchor="middle" font-weight="normal" fill="#1a1a1a" stroke="#1a1a1a" stroke-width="0.18" >High Salt</text>
<text x="352.7" y="155.2" font-size="4.8" text-anchor="middle" font-weight="normal" fill="#1a1a1a" stroke="#1a1a1a" stroke-width="0.18" >48h</text>
<text x="352.7" y="189.9" font-size="4.8" text-anchor="middle" font-weight="normal" fill="#1a1a1a" stroke="#1a1a1a" stroke-width="0.18" >72h</text>
<line x1="184.8" y1="133" x2="184.8" y2="211.5" stroke="#444" stroke-width="0.8" />
<path d="M184.8,130.9 L183.7,133.7 L185.9,133.7 Z" fill="#444"/>
<line x1="184.8" y1="211.5" x2="344" y2="211.5" stroke="#444" stroke-width="0.8" />
<path d="M346.3,211.5 L343.5,210.4 L343.5,212.6 Z" fill="#444"/>
<text x="182.2" y="171.4" font-size="5.2" text-anchor="middle" font-weight="normal" fill="#1a1a1a" stroke="#1a1a1a" stroke-width="0.18" transform="rotate(-90 182.2 171.4)" >Count</text>
<text x="265.6" y="217.6" font-size="4.6" text-anchor="middle" font-weight="normal" fill="#1a1a1a" stroke="#1a1a1a" stroke-width="0.18" textLength="18.7" lengthAdjust="spacingAndGlyphs">FI (CFSE)</text>
<rect x="192.0" y="134.2" width="69.8" height="34.7" fill="none" stroke="#777" stroke-width="0.5" />
<rect x="192.0" y="168.9" width="69.8" height="34.3" fill="none" stroke="#777" stroke-width="0.5" />
<text x="208.70000000000002" y="208.7" font-size="3.0" text-anchor="middle" font-weight="normal" fill="#333" stroke="#333" stroke-width="0.12" >10<tspan dy="-1" font-size="2.1">0</tspan></text>
<text x="225.60000000000002" y="208.7" font-size="3.0" text-anchor="middle" font-weight="normal" fill="#333" stroke="#333" stroke-width="0.12" >10<tspan dy="-1" font-size="2.1">1</tspan></text>
<text x="243.0" y="208.7" font-size="3.0" text-anchor="middle" font-weight="normal" fill="#333" stroke="#333" stroke-width="0.12" >10<tspan dy="-1" font-size="2.1">2</tspan></text>
<text x="259.70000000000005" y="208.7" font-size="3.0" text-anchor="middle" font-weight="normal" fill="#333" stroke="#333" stroke-width="0.12" >10<tspan dy="-1" font-size="2.1">3</tspan></text>
<rect x="270.09999999999997" y="134.2" width="69.8" height="34.7" fill="none" stroke="#777" stroke-width="0.5" />
<rect x="270.09999999999997" y="168.9" width="69.8" height="34.3" fill="none" stroke="#777" stroke-width="0.5" />
<text x="286.79999999999995" y="208.7" font-size="3.0" text-anchor="middle" font-weight="normal" fill="#333" stroke="#333" stroke-width="0.12" >10<tspan dy="-1" font-size="2.1">0</tspan></text>
<text x="303.7" y="208.7" font-size="3.0" text-anchor="middle" font-weight="normal" fill="#333" stroke="#333" stroke-width="0.12" >10<tspan dy="-1" font-size="2.1">1</tspan></text>
<text x="321.09999999999997" y="208.7" font-size="3.0" text-anchor="middle" font-weight="normal" fill="#333" stroke="#333" stroke-width="0.12" >10<tspan dy="-1" font-size="2.1">2</tspan></text>
<text x="337.79999999999995" y="208.7" font-size="3.0" text-anchor="middle" font-weight="normal" fill="#333" stroke="#333" stroke-width="0.12" >10<tspan dy="-1" font-size="2.1">3</tspan></text>
<path d="M212.00,168.4 L212.00,168.40 L212.25,168.40 L212.50,168.40 L212.75,168.40 L213.00,168.40 L213.25,168.40 L213.50,168.40 L213.75,168.40 L214.00,168.40 L214.25,168.40 L214.50,168.40 L214.75,168.40 L215.00,168.40 L215.25,168.40 L215.50,168.40 L215.75,168.40 L216.00,168.40 L216.25,168.40 L216.50,168.40 L216.75,168.40 L217.00,168.40 L217.25,168.40 L217.50,168.40 L217.75,168.40 L218.00,168.40 L218.25,168.39 L218.50,168.39 L218.75,168.38 L219.00,168.37 L219.25,168.35 L219.50,168.32 L219.75,168.28 L220.00,168.22 L220.25,168.14 L220.50,168.03 L220.75,167.89 L221.00,167.71 L221.25,167.49 L221.50,167.22 L221.75,166.91 L222.00,166.55 L222.25,166.17 L222.50,165.77 L222.75,165.35 L223.00,164.92 L223.25,164.49 L223.50,164.04 L223.75,163.56 L224.00,163.02 L224.25,162.40 L224.50,161.66 L224.75,160.80 L225.00,159.82 L225.25,158.75 L225.50,157.67 L225.75,156.66 L226.00,155.84 L226.25,155.30 L226.50,155.11 L226.75,155.28 L227.00,155.76 L227.25,156.42 L227.50,157.09 L227.75,157.54 L228.00,157.56 L228.25,156.97 L228.50,155.66 L228.75,153.65 L229.00,151.10 L229.25,148.27 L229.50,145.55 L229.75,143.34 L230.00,141.99 L230.25,141.73 L230.50,142.65 L230.75,144.62 L231.00,147.39 L231.25,150.60 L231.50,153.84 L231.75,156.76 L232.00,159.08 L232.25,160.64 L232.50,161.35 L232.75,161.26 L233.00,160.45 L233.25,159.12 L233.50,157.46 L233.75,155.72 L234.00,154.17 L234.25,153.01 L234.50,152.43 L234.75,152.51 L235.00,153.26 L235.25,154.57 L235.50,156.30 L235.75,158.26 L236.00,160.23 L236.25,162.05 L236.50,163.60 L236.75,164.80 L237.00,165.60 L237.25,166.01 L237.50,166.05 L237.75,165.75 L238.00,165.18 L238.25,164.39 L238.50,163.47 L238.75,162.51 L239.00,161.63 L239.25,160.93 L239.50,160.51 L239.75,160.41 L240.00,160.65 L240.25,161.20 L240.50,161.99 L240.75,162.94 L241.00,163.95 L241.25,164.93 L241.50,165.80 L241.75,166.54 L242.00,167.13 L242.25,167.56 L242.50,167.87 L242.75,168.08 L243.00,168.22 L243.25,168.30 L243.50,168.35 L243.75,168.37 L244.00,168.39 L244.25,168.39 L244.50,168.40 L244.75,168.40 L245.00,168.40 L245.25,168.40 L245.50,168.40 L245.75,168.40 L246.00,168.40 L246.25,168.40 L246.50,168.40 L246.75,168.40 L247.00,168.40 L247.25,168.40 L247.50,168.40 L247.75,168.40 L248.00,168.40 L248.00,168.4 Z" fill="#d6d6d6"/>
<path d="M212.00,168.40 L212.25,168.40 L212.50,168.40 L212.75,168.40 L213.00,168.40 L213.25,168.40 L213.50,168.40 L213.75,168.40 L214.00,168.40 L214.25,168.40 L214.50,168.40 L214.75,168.40 L215.00,168.40 L215.25,168.40 L215.50,168.40 L215.75,168.40 L216.00,168.40 L216.25,168.40 L216.50,168.40 L216.75,168.40 L217.00,168.40 L217.25,168.40 L217.50,168.40 L217.75,168.40 L218.00,168.40 L218.25,168.39 L218.50,168.39 L218.75,168.38 L219.00,168.37 L219.25,168.35 L219.50,168.32 L219.75,168.28 L220.00,168.22 L220.25,168.14 L220.50,168.03 L220.75,167.89 L221.00,167.71 L221.25,167.49 L221.50,167.22 L221.75,166.91 L222.00,166.55 L222.25,166.17 L222.50,165.77 L222.75,165.35 L223.00,164.92 L223.25,164.49 L223.50,164.04 L223.75,163.56 L224.00,163.02 L224.25,162.40 L224.50,161.66 L224.75,160.80 L225.00,159.82 L225.25,158.75 L225.50,157.67 L225.75,156.66 L226.00,155.84 L226.25,155.30 L226.50,155.11 L226.75,155.28 L227.00,155.76 L227.25,156.42 L227.50,157.09 L227.75,157.54 L228.00,157.56 L228.25,156.97 L228.50,155.66 L228.75,153.65 L229.00,151.10 L229.25,148.27 L229.50,145.55 L229.75,143.34 L230.00,141.99 L230.25,141.73 L230.50,142.65 L230.75,144.62 L231.00,147.39 L231.25,150.60 L231.50,153.84 L231.75,156.76 L232.00,159.08 L232.25,160.64 L232.50,161.35 L232.75,161.26 L233.00,160.45 L233.25,159.12 L233.50,157.46 L233.75,155.72 L234.00,154.17 L234.25,153.01 L234.50,152.43 L234.75,152.51 L235.00,153.26 L235.25,154.57 L235.50,156.30 L235.75,158.26 L236.00,160.23 L236.25,162.05 L236.50,163.60 L236.75,164.80 L237.00,165.60 L237.25,166.01 L237.50,166.05 L237.75,165.75 L238.00,165.18 L238.25,164.39 L238.50,163.47 L238.75,162.51 L239.00,161.63 L239.25,160.93 L239.50,160.51 L239.75,160.41 L240.00,160.65 L240.25,161.20 L240.50,161.99 L240.75,162.94 L241.00,163.95 L241.25,164.93 L241.50,165.80 L241.75,166.54 L242.00,167.13 L242.25,167.56 L242.50,167.87 L242.75,168.08 L243.00,168.22 L243.25,168.30 L243.50,168.35 L243.75,168.37 L244.00,168.39 L244.25,168.39 L244.50,168.40 L244.75,168.40 L245.00,168.40 L245.25,168.40 L245.50,168.40 L245.75,168.40 L246.00,168.40 L246.25,168.40 L246.50,168.40 L246.75,168.40 L247.00,168.40 L247.25,168.40 L247.50,168.40 L247.75,168.40 L248.00,168.40" fill="none" stroke="#222" stroke-width="0.55"/>
<path d="M203.00,202.9 L203.00,202.89 L203.25,202.88 L203.50,202.86 L203.75,202.84 L204.00,202.80 L204.25,202.75 L204.50,202.68 L204.75,202.58 L205.00,202.44 L205.25,202.26 L205.50,202.04 L205.75,201.75 L206.00,201.42 L206.25,201.02 L206.50,200.57 L206.75,200.07 L207.00,199.52 L207.25,198.93 L207.50,198.29 L207.75,197.59 L208.00,196.80 L208.25,195.90 L208.50,194.87 L208.75,193.69 L209.00,192.37 L209.25,190.96 L209.50,189.54 L209.75,188.22 L210.00,187.12 L210.25,186.36 L210.50,185.98 L210.75,185.96 L211.00,186.21 L211.25,186.53 L211.50,186.69 L211.75,186.45 L212.00,185.61 L212.25,184.11 L212.50,182.00 L212.75,179.48 L213.00,176.88 L213.25,174.59 L213.50,172.99 L213.75,172.38 L214.00,172.90 L214.25,174.52 L214.50,177.04 L214.75,180.14 L215.00,183.40 L215.25,186.45 L215.50,188.92 L215.75,190.59 L216.00,191.34 L216.25,191.18 L216.50,190.20 L216.75,188.61 L217.00,186.66 L217.25,184.65 L217.50,182.86 L217.75,181.55 L218.00,180.90 L218.25,181.01 L218.50,181.90 L218.75,183.47 L219.00,185.58 L219.25,188.00 L219.50,190.54 L219.75,192.99 L220.00,195.19 L220.25,197.03 L220.50,198.44 L220.75,199.40 L221.00,199.92 L221.25,200.02 L221.50,199.75 L221.75,199.17 L222.00,198.35 L222.25,197.40 L222.50,196.41 L222.75,195.52 L223.00,194.84 L223.25,194.46 L223.50,194.43 L223.75,194.75 L224.00,195.40 L224.25,196.28 L224.50,197.31 L224.75,198.38 L225.00,199.40 L225.25,200.29 L225.50,201.02 L225.75,201.58 L226.00,201.97 L226.25,202.21 L226.50,202.30 L226.75,202.28 L227.00,202.16 L227.25,201.95 L227.50,201.68 L227.75,201.38 L228.00,201.06 L228.25,200.76 L228.50,200.52 L228.75,200.36 L229.00,200.30 L229.25,200.36 L229.50,200.51 L229.75,200.76 L230.00,201.06 L230.25,201.38 L230.50,201.69 L230.75,201.97 L231.00,202.19 L231.25,202.35 L231.50,202.44 L231.75,202.47 L232.00,202.44 L232.25,202.35 L232.50,202.22 L232.75,202.07 L233.00,201.90 L233.25,201.74 L233.50,201.61 L233.75,201.53 L234.00,201.50 L234.25,201.53 L234.50,201.62 L234.75,201.75 L235.00,201.91 L235.25,202.08 L235.50,202.24 L235.75,202.39 L236.00,202.50 L236.25,202.57 L236.50,202.60 L236.75,202.59 L237.00,202.54 L237.25,202.45 L237.50,202.33 L237.75,202.19 L238.00,202.05 L238.25,201.91 L238.50,201.80 L238.75,201.73 L239.00,201.70 L239.25,201.73 L239.50,201.80 L239.75,201.91 L240.00,202.05 L240.25,202.20 L240.50,202.35 L240.75,202.49 L241.00,202.60 L241.25,202.69 L241.50,202.76 L241.75,202.81 L242.00,202.85 L242.25,202.87 L242.50,202.88 L242.75,202.89 L243.00,202.90 L243.25,202.90 L243.50,202.90 L243.75,202.90 L244.00,202.90 L244.00,202.9 Z" fill="#d6d6d6"/>
<path d="M203.00,202.89 L203.25,202.88 L203.50,202.86 L203.75,202.84 L204.00,202.80 L204.25,202.75 L204.50,202.68 L204.75,202.58 L205.00,202.44 L205.25,202.26 L205.50,202.04 L205.75,201.75 L206.00,201.42 L206.25,201.02 L206.50,200.57 L206.75,200.07 L207.00,199.52 L207.25,198.93 L207.50,198.29 L207.75,197.59 L208.00,196.80 L208.25,195.90 L208.50,194.87 L208.75,193.69 L209.00,192.37 L209.25,190.96 L209.50,189.54 L209.75,188.22 L210.00,187.12 L210.25,186.36 L210.50,185.98 L210.75,185.96 L211.00,186.21 L211.25,186.53 L211.50,186.69 L211.75,186.45 L212.00,185.61 L212.25,184.11 L212.50,182.00 L212.75,179.48 L213.00,176.88 L213.25,174.59 L213.50,172.99 L213.75,172.38 L214.00,172.90 L214.25,174.52 L214.50,177.04 L214.75,180.14 L215.00,183.40 L215.25,186.45 L215.50,188.92 L215.75,190.59 L216.00,191.34 L216.25,191.18 L216.50,190.20 L216.75,188.61 L217.00,186.66 L217.25,184.65 L217.50,182.86 L217.75,181.55 L218.00,180.90 L218.25,181.01 L218.50,181.90 L218.75,183.47 L219.00,185.58 L219.25,188.00 L219.50,190.54 L219.75,192.99 L220.00,195.19 L220.25,197.03 L220.50,198.44 L220.75,199.40 L221.00,199.92 L221.25,200.02 L221.50,199.75 L221.75,199.17 L222.00,198.35 L222.25,197.40 L222.50,196.41 L222.75,195.52 L223.00,194.84 L223.25,194.46 L223.50,194.43 L223.75,194.75 L224.00,195.40 L224.25,196.28 L224.50,197.31 L224.75,198.38 L225.00,199.40 L225.25,200.29 L225.50,201.02 L225.75,201.58 L226.00,201.97 L226.25,202.21 L226.50,202.30 L226.75,202.28 L227.00,202.16 L227.25,201.95 L227.50,201.68 L227.75,201.38 L228.00,201.06 L228.25,200.76 L228.50,200.52 L228.75,200.36 L229.00,200.30 L229.25,200.36 L229.50,200.51 L229.75,200.76 L230.00,201.06 L230.25,201.38 L230.50,201.69 L230.75,201.97 L231.00,202.19 L231.25,202.35 L231.50,202.44 L231.75,202.47 L232.00,202.44 L232.25,202.35 L232.50,202.22 L232.75,202.07 L233.00,201.90 L233.25,201.74 L233.50,201.61 L233.75,201.53 L234.00,201.50 L234.25,201.53 L234.50,201.62 L234.75,201.75 L235.00,201.91 L235.25,202.08 L235.50,202.24 L235.75,202.39 L236.00,202.50 L236.25,202.57 L236.50,202.60 L236.75,202.59 L237.00,202.54 L237.25,202.45 L237.50,202.33 L237.75,202.19 L238.00,202.05 L238.25,201.91 L238.50,201.80 L238.75,201.73 L239.00,201.70 L239.25,201.73 L239.50,201.80 L239.75,201.91 L240.00,202.05 L240.25,202.20 L240.50,202.35 L240.75,202.49 L241.00,202.60 L241.25,202.69 L241.50,202.76 L241.75,202.81 L242.00,202.85 L242.25,202.87 L242.50,202.88 L242.75,202.89 L243.00,202.90 L243.25,202.90 L243.50,202.90 L243.75,202.90 L244.00,202.90" fill="none" stroke="#222" stroke-width="0.55"/>
<path d="M296.00,168.4 L296.00,168.40 L296.25,168.40 L296.50,168.40 L296.75,168.40 L297.00,168.40 L297.25,168.40 L297.50,168.40 L297.75,168.40 L298.00,168.40 L298.25,168.40 L298.50,168.40 L298.75,168.40 L299.00,168.40 L299.25,168.40 L299.50,168.40 L299.75,168.39 L300.00,168.39 L300.25,168.38 L300.50,168.36 L300.75,168.32 L301.00,168.27 L301.25,168.18 L301.50,168.05 L301.75,167.87 L302.00,167.61 L302.25,167.28 L302.50,166.87 L302.75,166.38 L303.00,165.83 L303.25,165.24 L303.50,164.66 L303.75,164.12 L304.00,163.66 L304.25,163.30 L304.50,163.04 L304.75,162.84 L305.00,162.64 L305.25,162.32 L305.50,161.77 L305.75,160.85 L306.00,159.47 L306.25,157.57 L306.50,155.19 L306.75,152.46 L307.00,149.59 L307.25,146.89 L307.50,144.67 L307.75,143.22 L308.00,142.75 L308.25,143.32 L308.50,144.87 L308.75,147.19 L309.00,149.96 L309.25,152.82 L309.50,155.39 L309.75,157.34 L310.00,158.42 L310.25,158.43 L310.50,157.32 L310.75,155.12 L311.00,152.03 L311.25,148.34 L311.50,144.48 L311.75,140.93 L312.00,138.18 L312.25,136.62 L312.50,136.50 L312.75,137.84 L313.00,140.47 L313.25,144.04 L313.50,148.14 L313.75,152.31 L314.00,156.18 L314.25,159.48 L314.50,162.06 L314.75,163.85 L315.00,164.85 L315.25,165.08 L315.50,164.59 L315.75,163.43 L316.00,161.72 L316.25,159.64 L316.50,157.45 L316.75,155.48 L317.00,154.05 L317.25,153.41 L317.50,153.70 L317.75,154.84 L318.00,156.66 L318.25,158.85 L318.50,161.10 L318.75,163.16 L319.00,164.86 L319.25,166.16 L319.50,167.07 L319.75,167.65 L320.00,168.01 L320.25,168.21 L320.50,168.31 L320.75,168.36 L321.00,168.38 L321.25,168.39 L321.50,168.40 L321.75,168.40 L322.00,168.40 L322.25,168.40 L322.50,168.40 L322.75,168.40 L323.00,168.40 L323.25,168.40 L323.50,168.40 L323.75,168.40 L324.00,168.40 L324.25,168.40 L324.50,168.40 L324.75,168.40 L325.00,168.40 L325.25,168.40 L325.50,168.40 L325.75,168.40 L326.00,168.40 L326.00,168.4 Z" fill="#6a6a6a"/>
<path d="M296.00,168.40 L296.25,168.40 L296.50,168.40 L296.75,168.40 L297.00,168.40 L297.25,168.40 L297.50,168.40 L297.75,168.40 L298.00,168.40 L298.25,168.40 L298.50,168.40 L298.75,168.40 L299.00,168.40 L299.25,168.40 L299.50,168.40 L299.75,168.39 L300.00,168.39 L300.25,168.38 L300.50,168.36 L300.75,168.32 L301.00,168.27 L301.25,168.18 L301.50,168.05 L301.75,167.87 L302.00,167.61 L302.25,167.28 L302.50,166.87 L302.75,166.38 L303.00,165.83 L303.25,165.24 L303.50,164.66 L303.75,164.12 L304.00,163.66 L304.25,163.30 L304.50,163.04 L304.75,162.84 L305.00,162.64 L305.25,162.32 L305.50,161.77 L305.75,160.85 L306.00,159.47 L306.25,157.57 L306.50,155.19 L306.75,152.46 L307.00,149.59 L307.25,146.89 L307.50,144.67 L307.75,143.22 L308.00,142.75 L308.25,143.32 L308.50,144.87 L308.75,147.19 L309.00,149.96 L309.25,152.82 L309.50,155.39 L309.75,157.34 L310.00,158.42 L310.25,158.43 L310.50,157.32 L310.75,155.12 L311.00,152.03 L311.25,148.34 L311.50,144.48 L311.75,140.93 L312.00,138.18 L312.25,136.62 L312.50,136.50 L312.75,137.84 L313.00,140.47 L313.25,144.04 L313.50,148.14 L313.75,152.31 L314.00,156.18 L314.25,159.48 L314.50,162.06 L314.75,163.85 L315.00,164.85 L315.25,165.08 L315.50,164.59 L315.75,163.43 L316.00,161.72 L316.25,159.64 L316.50,157.45 L316.75,155.48 L317.00,154.05 L317.25,153.41 L317.50,153.70 L317.75,154.84 L318.00,156.66 L318.25,158.85 L318.50,161.10 L318.75,163.16 L319.00,164.86 L319.25,166.16 L319.50,167.07 L319.75,167.65 L320.00,168.01 L320.25,168.21 L320.50,168.31 L320.75,168.36 L321.00,168.38 L321.25,168.39 L321.50,168.40 L321.75,168.40 L322.00,168.40 L322.25,168.40 L322.50,168.40 L322.75,168.40 L323.00,168.40 L323.25,168.40 L323.50,168.40 L323.75,168.40 L324.00,168.40 L324.25,168.40 L324.50,168.40 L324.75,168.40 L325.00,168.40 L325.25,168.40 L325.50,168.40 L325.75,168.40 L326.00,168.40" fill="none" stroke="#222" stroke-width="0.55"/>
<path d="M283.00,202.9 L283.00,202.90 L283.25,202.90 L283.50,202.89 L283.75,202.89 L284.00,202.88 L284.25,202.87 L284.50,202.84 L284.75,202.81 L285.00,202.76 L285.25,202.68 L285.50,202.57 L285.75,202.42 L286.00,202.22 L286.25,201.97 L286.50,201.65 L286.75,201.28 L287.00,200.84 L287.25,200.37 L287.50,199.86 L287.75,199.35 L288.00,198.87 L288.25,198.43 L288.50,198.06 L288.75,197.75 L289.00,197.50 L289.25,197.27 L289.50,196.98 L289.75,196.57 L290.00,195.92 L290.25,194.95 L290.50,193.59 L290.75,191.82 L291.00,189.70 L291.25,187.38 L291.50,185.04 L291.75,182.96 L292.00,181.39 L292.25,180.54 L292.50,180.53 L292.75,181.37 L293.00,182.92 L293.25,184.92 L293.50,187.07 L293.75,189.01 L294.00,190.41 L294.25,191.01 L294.50,190.66 L294.75,189.30 L295.00,187.06 L295.25,184.15 L295.50,180.92 L295.75,177.78 L296.00,175.15 L296.25,173.41 L296.50,172.83 L296.75,173.50 L297.00,175.36 L297.25,178.18 L297.50,181.62 L297.75,185.31 L298.00,188.88 L298.25,192.05 L298.50,194.58 L298.75,196.37 L299.00,197.38 L299.25,197.62 L299.50,197.16 L299.75,196.11 L300.00,194.63 L300.25,192.88 L300.50,191.08 L300.75,189.46 L301.00,188.21 L301.25,187.51 L301.50,187.45 L301.75,188.04 L302.00,189.22 L302.25,190.84 L302.50,192.71 L302.75,194.65 L303.00,196.49 L303.25,198.11 L303.50,199.42 L303.75,200.39 L304.00,201.03 L304.25,201.35 L304.50,201.40 L304.75,201.22 L305.00,200.86 L305.25,200.38 L305.50,199.85 L305.75,199.35 L306.00,198.96 L306.25,198.73 L306.50,198.72 L306.75,198.91 L307.00,199.28 L307.25,199.78 L307.50,200.35 L307.75,200.92 L308.00,201.43 L308.25,201.86 L308.50,202.18 L308.75,202.41 L309.00,202.53 L309.25,202.57 L309.50,202.53 L309.75,202.44 L310.00,202.29 L310.25,202.10 L310.50,201.90 L310.75,201.71 L311.00,201.55 L311.25,201.44 L311.50,201.40 L311.75,201.44 L312.00,201.55 L312.25,201.71 L312.50,201.91 L312.75,202.11 L313.00,202.31 L313.25,202.47 L313.50,202.61 L313.75,202.70 L314.00,202.76 L314.25,202.78 L314.50,202.77 L314.75,202.73 L315.00,202.65 L315.25,202.53 L315.50,202.38 L315.75,202.19 L316.00,201.99 L316.25,201.79 L316.50,201.61 L316.75,201.47 L317.00,201.41 L317.25,201.41 L317.50,201.50 L317.75,201.64 L318.00,201.83 L318.25,202.03 L318.50,202.23 L318.75,202.41 L319.00,202.56 L319.25,202.68 L319.50,202.76 L319.75,202.82 L320.00,202.85 L320.25,202.88 L320.50,202.89 L320.75,202.89 L321.00,202.90 L321.25,202.90 L321.50,202.90 L321.75,202.90 L322.00,202.90 L322.25,202.90 L322.50,202.90 L322.75,202.90 L323.00,202.90 L323.00,202.9 Z" fill="#6a6a6a"/>
<path d="M283.00,202.90 L283.25,202.90 L283.50,202.89 L283.75,202.89 L284.00,202.88 L284.25,202.87 L284.50,202.84 L284.75,202.81 L285.00,202.76 L285.25,202.68 L285.50,202.57 L285.75,202.42 L286.00,202.22 L286.25,201.97 L286.50,201.65 L286.75,201.28 L287.00,200.84 L287.25,200.37 L287.50,199.86 L287.75,199.35 L288.00,198.87 L288.25,198.43 L288.50,198.06 L288.75,197.75 L289.00,197.50 L289.25,197.27 L289.50,196.98 L289.75,196.57 L290.00,195.92 L290.25,194.95 L290.50,193.59 L290.75,191.82 L291.00,189.70 L291.25,187.38 L291.50,185.04 L291.75,182.96 L292.00,181.39 L292.25,180.54 L292.50,180.53 L292.75,181.37 L293.00,182.92 L293.25,184.92 L293.50,187.07 L293.75,189.01 L294.00,190.41 L294.25,191.01 L294.50,190.66 L294.75,189.30 L295.00,187.06 L295.25,184.15 L295.50,180.92 L295.75,177.78 L296.00,175.15 L296.25,173.41 L296.50,172.83 L296.75,173.50 L297.00,175.36 L297.25,178.18 L297.50,181.62 L297.75,185.31 L298.00,188.88 L298.25,192.05 L298.50,194.58 L298.75,196.37 L299.00,197.38 L299.25,197.62 L299.50,197.16 L299.75,196.11 L300.00,194.63 L300.25,192.88 L300.50,191.08 L300.75,189.46 L301.00,188.21 L301.25,187.51 L301.50,187.45 L301.75,188.04 L302.00,189.22 L302.25,190.84 L302.50,192.71 L302.75,194.65 L303.00,196.49 L303.25,198.11 L303.50,199.42 L303.75,200.39 L304.00,201.03 L304.25,201.35 L304.50,201.40 L304.75,201.22 L305.00,200.86 L305.25,200.38 L305.50,199.85 L305.75,199.35 L306.00,198.96 L306.25,198.73 L306.50,198.72 L306.75,198.91 L307.00,199.28 L307.25,199.78 L307.50,200.35 L307.75,200.92 L308.00,201.43 L308.25,201.86 L308.50,202.18 L308.75,202.41 L309.00,202.53 L309.25,202.57 L309.50,202.53 L309.75,202.44 L310.00,202.29 L310.25,202.10 L310.50,201.90 L310.75,201.71 L311.00,201.55 L311.25,201.44 L311.50,201.40 L311.75,201.44 L312.00,201.55 L312.25,201.71 L312.50,201.91 L312.75,202.11 L313.00,202.31 L313.25,202.47 L313.50,202.61 L313.75,202.70 L314.00,202.76 L314.25,202.78 L314.50,202.77 L314.75,202.73 L315.00,202.65 L315.25,202.53 L315.50,202.38 L315.75,202.19 L316.00,201.99 L316.25,201.79 L316.50,201.61 L316.75,201.47 L317.00,201.41 L317.25,201.41 L317.50,201.50 L317.75,201.64 L318.00,201.83 L318.25,202.03 L318.50,202.23 L318.75,202.41 L319.00,202.56 L319.25,202.68 L319.50,202.76 L319.75,202.82 L320.00,202.85 L320.25,202.88 L320.50,202.89 L320.75,202.89 L321.00,202.90 L321.25,202.90 L321.50,202.90 L321.75,202.90 L322.00,202.90 L322.25,202.90 L322.50,202.90 L322.75,202.90 L323.00,202.90" fill="none" stroke="#222" stroke-width="0.55"/>
<text x="230" y="139.5" font-size="4.0" text-anchor="middle" font-weight="normal" fill="#d24a46" stroke="#d24a46" stroke-width="0.05" >2</text>
<text x="226.2" y="153" font-size="4.0" text-anchor="middle" font-weight="normal" fill="#d24a46" stroke="#d24a46" stroke-width="0.05" >3</text>
<text x="234.7" y="149" font-size="4.0" text-anchor="middle" font-weight="normal" fill="#d24a46" stroke="#d24a46" stroke-width="0.05" >1</text>
<text x="240" y="158.6" font-size="4.0" text-anchor="middle" font-weight="normal" fill="#d24a46" stroke="#d24a46" stroke-width="0.05" >0</text>
<text x="212.4" y="174.4" font-size="4.0" text-anchor="middle" font-weight="normal" fill="#d24a46" stroke="#d24a46" stroke-width="0.05" >5</text>
<text x="210.7" y="184.2" font-size="4.0" text-anchor="middle" font-weight="normal" fill="#d24a46" stroke="#d24a46" stroke-width="0.05" >6</text>
<text x="218.4" y="179.4" font-size="4.0" text-anchor="middle" font-weight="normal" fill="#d24a46" stroke="#d24a46" stroke-width="0.05" >4</text>
<text x="223.4" y="192.2" font-size="4.0" text-anchor="middle" font-weight="normal" fill="#d24a46" stroke="#d24a46" stroke-width="0.05" >3</text>
<text x="229.3" y="198.1" font-size="4.0" text-anchor="middle" font-weight="normal" fill="#d24a46" stroke="#d24a46" stroke-width="0.05" >2</text>
<text x="234.4" y="198.8" font-size="4.0" text-anchor="middle" font-weight="normal" fill="#d24a46" stroke="#d24a46" stroke-width="0.05" >1</text>
<text x="239.1" y="198.8" font-size="4.0" text-anchor="middle" font-weight="normal" fill="#d24a46" stroke="#d24a46" stroke-width="0.05" >0</text>
<text x="305" y="144.5" font-size="4.0" text-anchor="middle" font-weight="normal" fill="#d24a46" stroke="#d24a46" stroke-width="0.05" >2</text>
<text x="310.2" y="139" font-size="4.0" text-anchor="middle" font-weight="normal" fill="#d24a46" stroke="#d24a46" stroke-width="0.05" >1</text>
<text x="317.3" y="153.1" font-size="4.0" text-anchor="middle" font-weight="normal" fill="#d24a46" stroke="#d24a46" stroke-width="0.05" >0</text>
<text x="292.4" y="181.7" font-size="4.0" text-anchor="middle" font-weight="normal" fill="#d24a46" stroke="#d24a46" stroke-width="0.05" >5</text>
<text x="296.5" y="172.7" font-size="4.0" text-anchor="middle" font-weight="normal" fill="#d24a46" stroke="#d24a46" stroke-width="0.05" >4</text>
<text x="301.4" y="189.2" font-size="4.0" text-anchor="middle" font-weight="normal" fill="#d24a46" stroke="#d24a46" stroke-width="0.05" >3</text>
<text x="306.4" y="199" font-size="4.0" text-anchor="middle" font-weight="normal" fill="#d24a46" stroke="#d24a46" stroke-width="0.05" >2</text>
<text x="311.5" y="199.6" font-size="4.0" text-anchor="middle" font-weight="normal" fill="#d24a46" stroke="#d24a46" stroke-width="0.05" >1</text>
<text x="317.1" y="199.6" font-size="4.0" text-anchor="middle" font-weight="normal" fill="#d24a46" stroke="#d24a46" stroke-width="0.05" >0</text>
<line x1="218.3" y1="235" x2="218.3" y2="316.8" stroke="#222" stroke-width="0.8" />
<line x1="216.3" y1="316.5" x2="218.3" y2="316.5" stroke="#222" stroke-width="0.7" />
<text x="216.0" y="318.45" font-size="5.5" text-anchor="end" font-weight="normal" fill="#1a1a1a" stroke="#1a1a1a" stroke-width="0.18" >0</text>
<line x1="216.3" y1="303.03" x2="218.3" y2="303.03" stroke="#222" stroke-width="0.7" />
<text x="216.0" y="304.97999999999996" font-size="5.5" text-anchor="end" font-weight="normal" fill="#1a1a1a" stroke="#1a1a1a" stroke-width="0.18" >10</text>
<line x1="216.3" y1="289.56" x2="218.3" y2="289.56" stroke="#222" stroke-width="0.7" />
<text x="216.0" y="291.51" font-size="5.5" text-anchor="end" font-weight="normal" fill="#1a1a1a" stroke="#1a1a1a" stroke-width="0.18" >20</text>
<line x1="216.3" y1="276.09000000000003" x2="218.3" y2="276.09000000000003" stroke="#222" stroke-width="0.7" />
<text x="216.0" y="278.04" font-size="5.5" text-anchor="end" font-weight="normal" fill="#1a1a1a" stroke="#1a1a1a" stroke-width="0.18" >30</text>
<line x1="216.3" y1="262.62" x2="218.3" y2="262.62" stroke="#222" stroke-width="0.7" />
<text x="216.0" y="264.57" font-size="5.5" text-anchor="end" font-weight="normal" fill="#1a1a1a" stroke="#1a1a1a" stroke-width="0.18" >40</text>
<line x1="216.3" y1="249.15" x2="218.3" y2="249.15" stroke="#222" stroke-width="0.7" />
<text x="216.0" y="251.1" font-size="5.5" text-anchor="end" font-weight="normal" fill="#1a1a1a" stroke="#1a1a1a" stroke-width="0.18" >50</text>
<line x1="216.3" y1="235.68" x2="218.3" y2="235.68" stroke="#222" stroke-width="0.7" />
<text x="216.0" y="237.63" font-size="5.5" text-anchor="end" font-weight="normal" fill="#1a1a1a" stroke="#1a1a1a" stroke-width="0.18" >60</text>
<line x1="217.20000000000002" y1="309.765" x2="218.3" y2="309.765" stroke="#222" stroke-width="0.6" />
<line x1="217.20000000000002" y1="296.295" x2="218.3" y2="296.295" stroke="#222" stroke-width="0.6" />
<line x1="217.20000000000002" y1="282.825" x2="218.3" y2="282.825" stroke="#222" stroke-width="0.6" />
<line x1="217.20000000000002" y1="269.355" x2="218.3" y2="269.355" stroke="#222" stroke-width="0.6" />
<line x1="217.20000000000002" y1="255.885" x2="218.3" y2="255.885" stroke="#222" stroke-width="0.6" />
<line x1="217.20000000000002" y1="242.41500000000002" x2="218.3" y2="242.41500000000002" stroke="#222" stroke-width="0.6" />
<line x1="218.3" y1="316.5" x2="328.5" y2="316.5" stroke="#222" stroke-width="0.8" />
<text x="202.4" y="274.6" font-size="6.9" text-anchor="middle" font-weight="normal" fill="#222" stroke="#222" stroke-width="0.18" transform="rotate(-90 202.4 274.6)" >% of dividing cells</text>
<rect x="220.3" y="301.683" width="3" height="14.817" fill="#c4c4c4" stroke="#8a8a8a" stroke-width="0.45" />
<line x1="221.8" y1="301.683" x2="221.8" y2="300.0666" stroke="#888" stroke-width="0.45" />
<line x1="221.0" y1="300.0666" x2="222.60000000000002" y2="300.0666" stroke="#888" stroke-width="0.45" />
<text x="223.60000000000002" y="321.6" font-size="4.4" text-anchor="middle" font-weight="normal" fill="#222" stroke="#222" stroke-width="0.18" >0</text>
<rect x="230.3" y="282.825" width="3" height="33.675" fill="#c4c4c4" stroke="#8a8a8a" stroke-width="0.45" />
<line x1="231.8" y1="282.825" x2="231.8" y2="281.2086" stroke="#888" stroke-width="0.45" />
<line x1="231.0" y1="281.2086" x2="232.60000000000002" y2="281.2086" stroke="#888" stroke-width="0.45" />
<text x="233.60000000000002" y="321.6" font-size="4.4" text-anchor="middle" font-weight="normal" fill="#222" stroke="#222" stroke-width="0.18" >1</text>
<rect x="240.3" y="262.62" width="3" height="53.879999999999995" fill="#c4c4c4" stroke="#8a8a8a" stroke-width="0.45" />
<line x1="241.8" y1="262.62" x2="241.8" y2="261.273" stroke="#888" stroke-width="0.45" />
<line x1="241.0" y1="261.273" x2="242.60000000000002" y2="261.273" stroke="#888" stroke-width="0.45" />
<text x="243.60000000000002" y="321.6" font-size="4.4" text-anchor="middle" font-weight="normal" fill="#222" stroke="#222" stroke-width="0.18" >2</text>
<rect x="250.3" y="284.172" width="3" height="32.328" fill="#c4c4c4" stroke="#8a8a8a" stroke-width="0.45" />
<line x1="251.8" y1="284.172" x2="251.8" y2="282.1515" stroke="#888" stroke-width="0.45" />
<line x1="251.0" y1="282.1515" x2="252.60000000000002" y2="282.1515" stroke="#888" stroke-width="0.45" />
<text x="253.60000000000002" y="321.6" font-size="4.4" text-anchor="middle" font-weight="normal" fill="#222" stroke="#222" stroke-width="0.18" >3</text>
<rect x="224" y="293.601" width="3" height="22.899" fill="#000" stroke="#000" stroke-width="0.45" />
<line x1="225.5" y1="293.601" x2="225.5" y2="291.5805" stroke="#222" stroke-width="0.45" />
<line x1="224.7" y1="291.5805" x2="226.3" y2="291.5805" stroke="#222" stroke-width="0.45" />
<rect x="234" y="264.6405" width="3" height="51.8595" fill="#000" stroke="#000" stroke-width="0.45" />
<line x1="235.5" y1="264.6405" x2="235.5" y2="262.61999999999995" stroke="#222" stroke-width="0.45" />
<line x1="234.7" y1="262.61999999999995" x2="236.3" y2="262.61999999999995" stroke="#222" stroke-width="0.45" />
<rect x="244" y="257.23199999999997" width="3" height="59.268" fill="#000" stroke="#000" stroke-width="0.45" />
<line x1="245.5" y1="257.23199999999997" x2="245.5" y2="251.57459999999998" stroke="#222" stroke-width="0.45" />
<line x1="244.7" y1="251.57459999999998" x2="246.3" y2="251.57459999999998" stroke="#222" stroke-width="0.45" />
<rect x="262.7" y="315.153" width="3" height="1.347" fill="#c4c4c4" stroke="#8a8a8a" stroke-width="0.45" />
<line x1="264.2" y1="315.153" x2="264.2" y2="314.3448" stroke="#888" stroke-width="0.45" />
<line x1="263.4" y1="314.3448" x2="265.0" y2="314.3448" stroke="#888" stroke-width="0.45" />
<text x="265.0" y="321.6" font-size="4.4" text-anchor="middle" font-weight="normal" fill="#222" stroke="#222" stroke-width="0.18" >0</text>
<rect x="272.5" y="315.153" width="3" height="1.347" fill="#c4c4c4" stroke="#8a8a8a" stroke-width="0.45" />
<line x1="274.0" y1="315.153" x2="274.0" y2="314.3448" stroke="#888" stroke-width="0.45" />
<line x1="273.2" y1="314.3448" x2="274.8" y2="314.3448" stroke="#888" stroke-width="0.45" />
<text x="274.8" y="321.6" font-size="4.4" text-anchor="middle" font-weight="normal" fill="#222" stroke="#222" stroke-width="0.18" >1</text>
<rect x="282.3" y="311.7855" width="3" height="4.7145" fill="#c4c4c4" stroke="#8a8a8a" stroke-width="0.45" />
<line x1="283.8" y1="311.7855" x2="283.8" y2="310.43850000000003" stroke="#888" stroke-width="0.45" />
<line x1="283.0" y1="310.43850000000003" x2="284.6" y2="310.43850000000003" stroke="#888" stroke-width="0.45" />
<text x="284.6" y="321.6" font-size="4.4" text-anchor="middle" font-weight="normal" fill="#222" stroke="#222" stroke-width="0.18" >2</text>
<rect x="292.09999999999997" y="302.3565" width="3" height="14.1435" fill="#c4c4c4" stroke="#8a8a8a" stroke-width="0.45" />
<line x1="293.59999999999997" y1="302.3565" x2="293.59999999999997" y2="300.7401" stroke="#888" stroke-width="0.45" />
<line x1="292.79999999999995" y1="300.7401" x2="294.4" y2="300.7401" stroke="#888" stroke-width="0.45" />
<text x="294.4" y="321.6" font-size="4.4" text-anchor="middle" font-weight="normal" fill="#222" stroke="#222" stroke-width="0.18" >3</text>
<rect x="301.9" y="282.825" width="3" height="33.675" fill="#c4c4c4" stroke="#8a8a8a" stroke-width="0.45" />
<line x1="303.4" y1="282.825" x2="303.4" y2="281.2086" stroke="#888" stroke-width="0.45" />
<line x1="302.59999999999997" y1="281.2086" x2="304.2" y2="281.2086" stroke="#888" stroke-width="0.45" />
<text x="304.2" y="321.6" font-size="4.4" text-anchor="middle" font-weight="normal" fill="#222" stroke="#222" stroke-width="0.18" >4</text>
<rect x="311.7" y="267.3345" width="3" height="49.1655" fill="#c4c4c4" stroke="#8a8a8a" stroke-width="0.45" />
<line x1="313.2" y1="267.3345" x2="313.2" y2="265.31399999999996" stroke="#888" stroke-width="0.45" />
<line x1="312.4" y1="265.31399999999996" x2="314.0" y2="265.31399999999996" stroke="#888" stroke-width="0.45" />
<text x="314.0" y="321.6" font-size="4.4" text-anchor="middle" font-weight="normal" fill="#222" stroke="#222" stroke-width="0.18" >5</text>
<rect x="321.5" y="286.866" width="3" height="29.634" fill="#c4c4c4" stroke="#8a8a8a" stroke-width="0.45" />
<line x1="323.0" y1="286.866" x2="323.0" y2="284.84549999999996" stroke="#888" stroke-width="0.45" />
<line x1="322.2" y1="284.84549999999996" x2="323.8" y2="284.84549999999996" stroke="#888" stroke-width="0.45" />
<text x="323.8" y="321.6" font-size="4.4" text-anchor="middle" font-weight="normal" fill="#222" stroke="#222" stroke-width="0.18" >6</text>
<rect x="266.1" y="313.1325" width="3" height="3.3674999999999997" fill="#000" stroke="#000" stroke-width="0.45" />
<line x1="267.6" y1="313.1325" x2="267.6" y2="311.7855" stroke="#222" stroke-width="0.45" />
<line x1="266.8" y1="311.7855" x2="268.40000000000003" y2="311.7855" stroke="#222" stroke-width="0.45" />
<rect x="275.90000000000003" y="313.806" width="3" height="2.694" fill="#000" stroke="#000" stroke-width="0.45" />
<line x1="277.40000000000003" y1="313.806" x2="277.40000000000003" y2="312.72839999999997" stroke="#222" stroke-width="0.45" />
<line x1="276.6" y1="312.72839999999997" x2="278.20000000000005" y2="312.72839999999997" stroke="#222" stroke-width="0.45" />
<rect x="285.70000000000005" y="307.6098" width="3" height="8.8902" fill="#000" stroke="#000" stroke-width="0.45" />
<line x1="287.20000000000005" y1="307.6098" x2="287.20000000000005" y2="305.9934" stroke="#222" stroke-width="0.45" />
<line x1="286.40000000000003" y1="305.9934" x2="288.00000000000006" y2="305.9934" stroke="#222" stroke-width="0.45" />
<rect x="295.5" y="289.56" width="3" height="26.939999999999998" fill="#000" stroke="#000" stroke-width="0.45" />
<line x1="297.0" y1="289.56" x2="297.0" y2="287.5395" stroke="#222" stroke-width="0.45" />
<line x1="296.2" y1="287.5395" x2="297.8" y2="287.5395" stroke="#222" stroke-width="0.45" />
<rect x="305.3" y="265.0446" width="3" height="51.455400000000004" fill="#000" stroke="#000" stroke-width="0.45" />
<line x1="306.8" y1="265.0446" x2="306.8" y2="263.6976" stroke="#222" stroke-width="0.45" />
<line x1="306.0" y1="263.6976" x2="307.6" y2="263.6976" stroke="#222" stroke-width="0.45" />
<rect x="315.1" y="276.09000000000003" width="3" height="40.41" fill="#000" stroke="#000" stroke-width="0.45" />
<line x1="316.6" y1="276.09000000000003" x2="316.6" y2="272.85720000000003" stroke="#222" stroke-width="0.45" />
<line x1="315.8" y1="272.85720000000003" x2="317.40000000000003" y2="272.85720000000003" stroke="#222" stroke-width="0.45" />
<circle cx="221.9" cy="285.4" r="0.8" fill="#111"/><circle cx="225.1" cy="285.4" r="0.8" fill="#111"/>
<line x1="221.2" y1="289.7" x2="225.8" y2="289.7" stroke="#aaa" stroke-width="0.55" />
<circle cx="231.4" cy="255.3" r="0.8" fill="#111"/><circle cx="234.6" cy="255.3" r="0.8" fill="#111"/>
<line x1="230.7" y1="259.6" x2="235.3" y2="259.6" stroke="#aaa" stroke-width="0.55" />
<circle cx="264.0" cy="307.1" r="0.8" fill="#111"/><circle cx="267.20000000000005" cy="307.1" r="0.8" fill="#111"/>
<line x1="263.3" y1="311.40000000000003" x2="267.90000000000003" y2="311.40000000000003" stroke="#aaa" stroke-width="0.55" />
<circle cx="283.2" cy="300.4" r="0.8" fill="#111"/><circle cx="286.40000000000003" cy="300.4" r="0.8" fill="#111"/>
<line x1="282.5" y1="304.7" x2="287.1" y2="304.7" stroke="#aaa" stroke-width="0.55" />
<circle cx="293.29999999999995" cy="281.7" r="0.8" fill="#111"/><circle cx="296.5" cy="281.7" r="0.8" fill="#111"/>
<line x1="292.59999999999997" y1="286.0" x2="297.2" y2="286.0" stroke="#aaa" stroke-width="0.55" />
<circle cx="302.79999999999995" cy="258.1" r="0.8" fill="#111"/><circle cx="306.0" cy="258.1" r="0.8" fill="#111"/>
<line x1="302.09999999999997" y1="262.40000000000003" x2="306.7" y2="262.40000000000003" stroke="#aaa" stroke-width="0.55" />
<line x1="219" y1="324" x2="254" y2="324" stroke="#999" stroke-width="0.5" />
<line x1="259" y1="324" x2="328" y2="324" stroke="#999" stroke-width="0.5" />
<text x="236.4" y="328.6" font-size="4.6" text-anchor="middle" font-weight="normal" fill="#1a1a1a" stroke="#1a1a1a" stroke-width="0.18" >48h</text>
<text x="299.6" y="328.6" font-size="4.6" text-anchor="middle" font-weight="normal" fill="#1a1a1a" stroke="#1a1a1a" stroke-width="0.18" >72h</text>
<text x="268.4" y="333.6" font-size="5.6" text-anchor="middle" font-weight="normal" fill="#1a1a1a" stroke="#1a1a1a" stroke-width="0.18" >division #</text>
<rect x="292.8" y="233.7" width="10.2" height="4.5" fill="#c4c4c4" stroke="#888" stroke-width="0.4" />
<rect x="292.8" y="240" width="10.2" height="4.2" fill="#000" stroke="none" stroke-width="0.6" />
<text x="303.9" y="237.6" font-size="4.9" text-anchor="start" font-weight="normal" fill="#222" stroke="#222" stroke-width="0.18" >Normal Salt</text>
<text x="303.9" y="244" font-size="4.9" text-anchor="start" font-weight="normal" fill="#222" stroke="#222" stroke-width="0.18" >High Salt</text>
</g>
</svg></body></html>
